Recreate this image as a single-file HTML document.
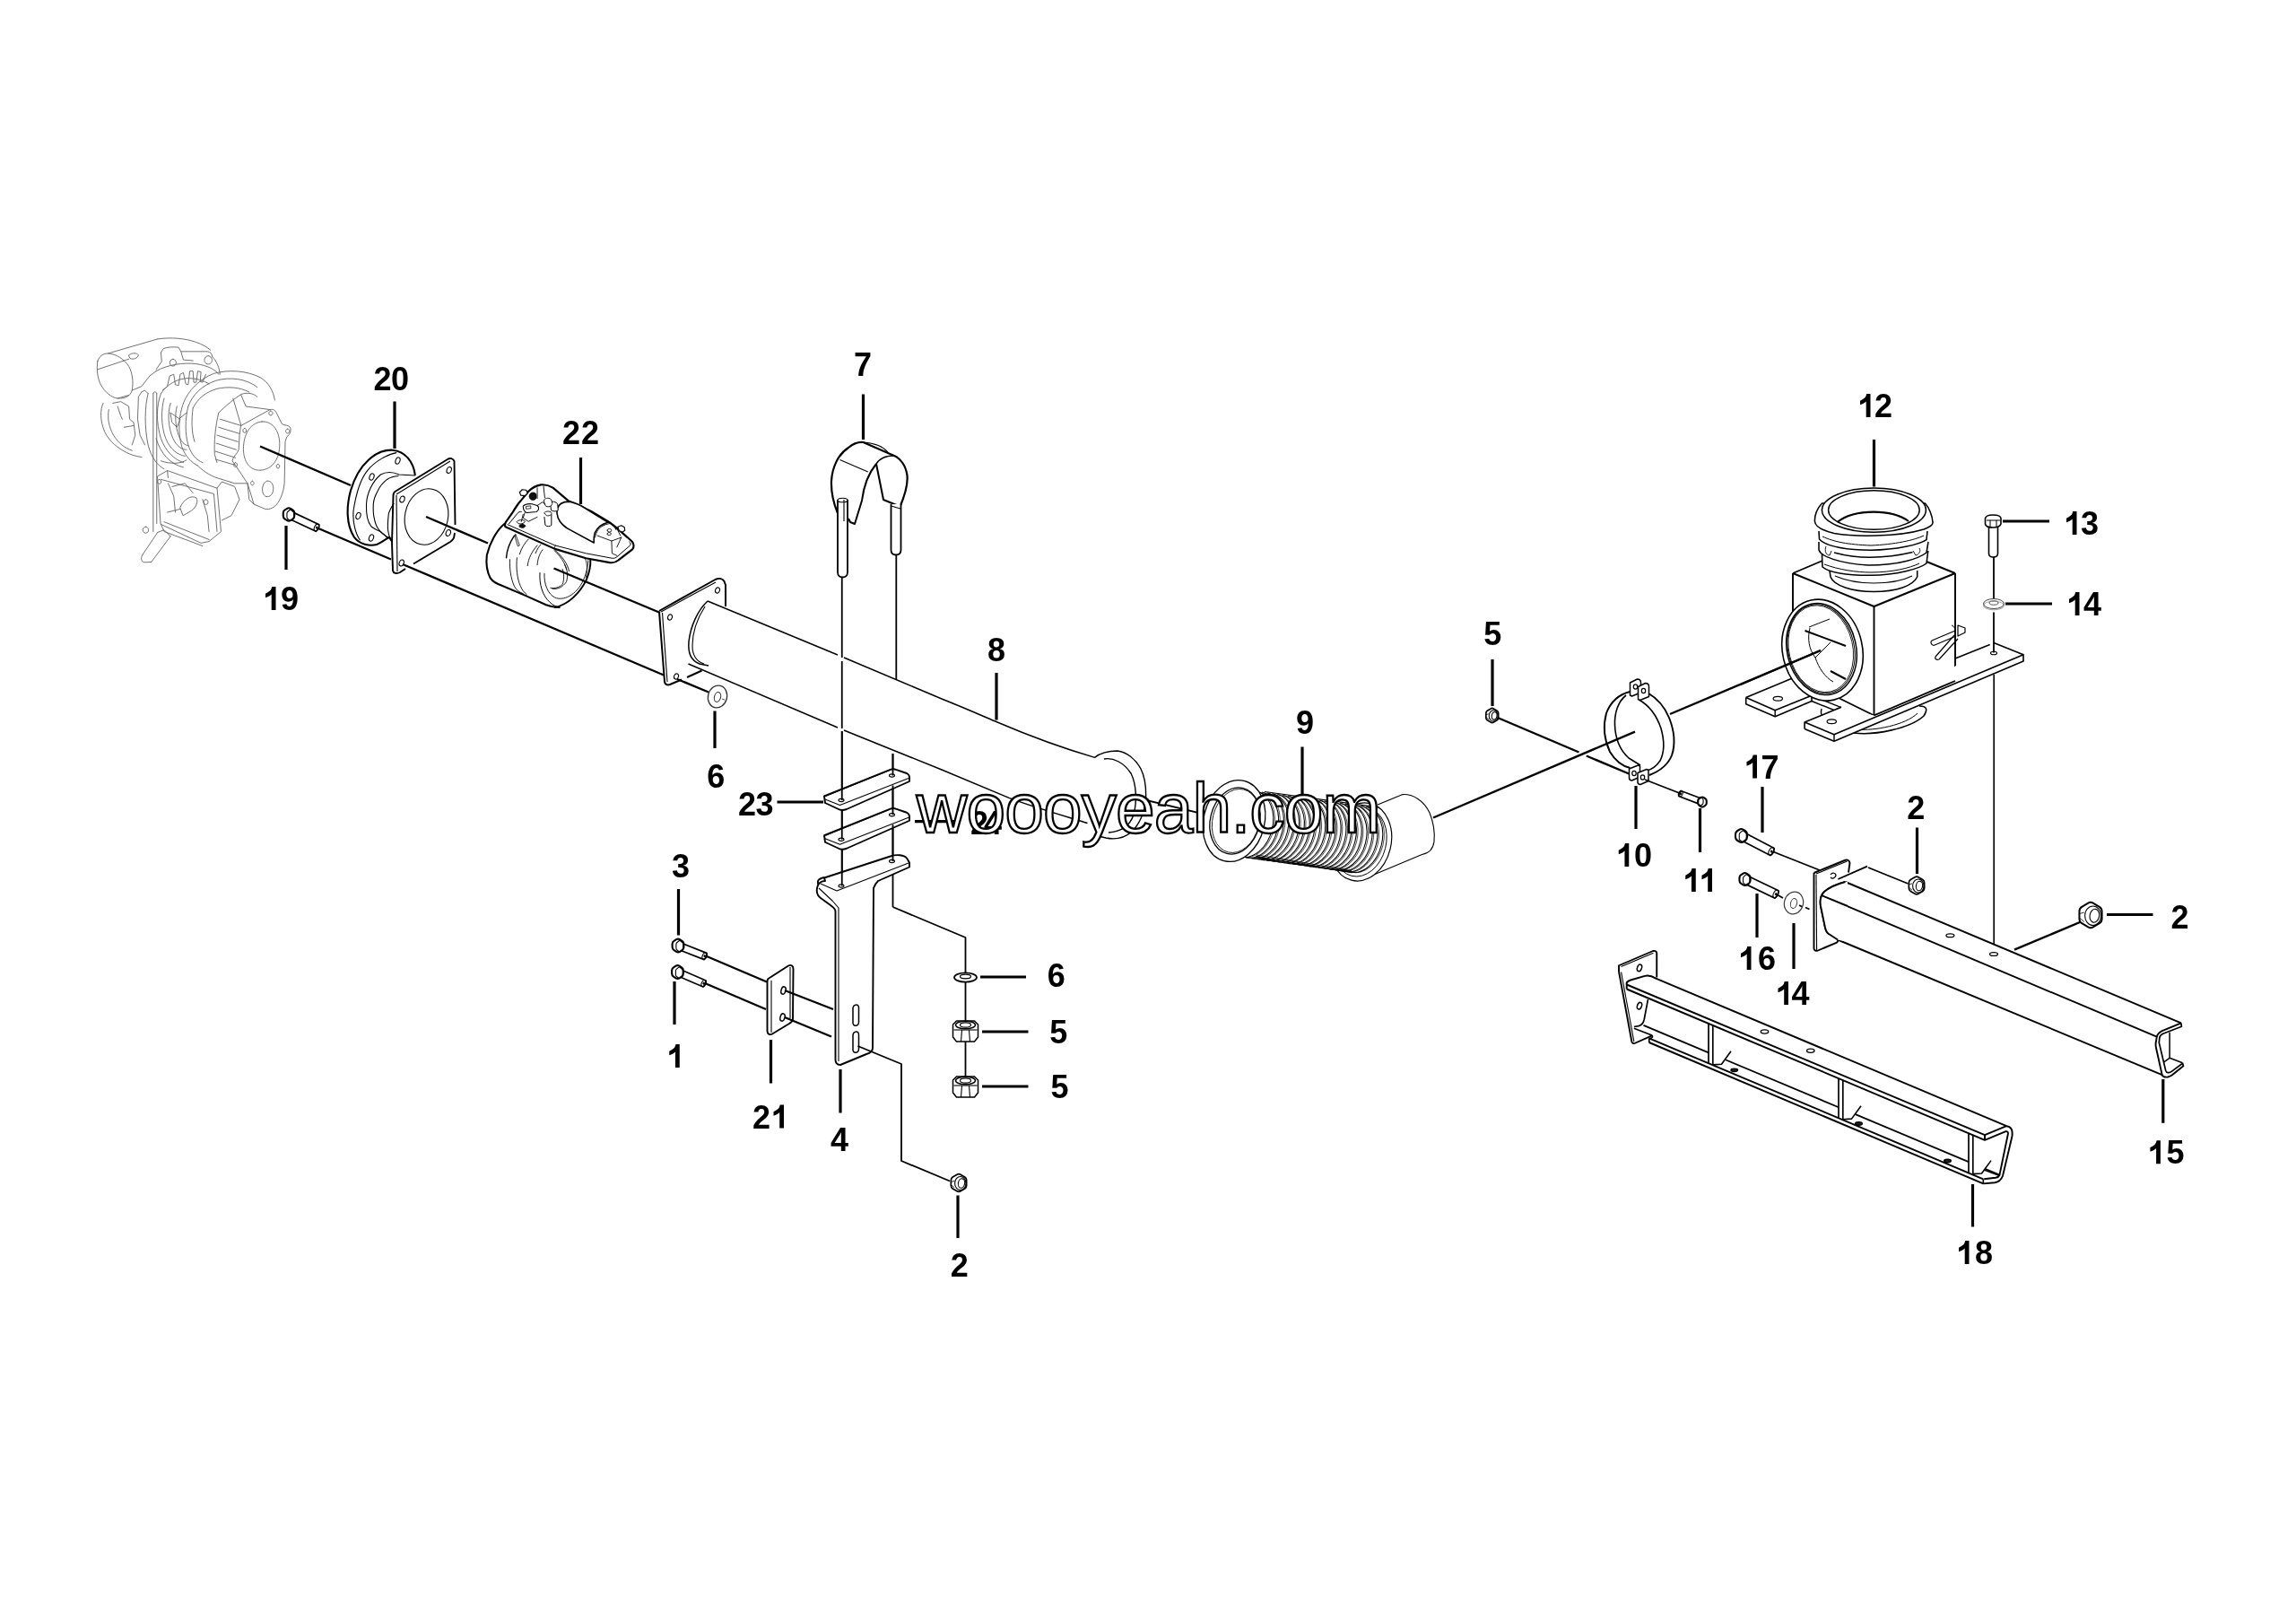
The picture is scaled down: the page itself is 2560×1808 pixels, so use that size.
<!DOCTYPE html>
<html><head><meta charset="utf-8"><title>Exhaust system exploded view</title>
<style>
html,body{margin:0;padding:0;background:#fff;}
svg{display:block;filter:grayscale(1);}
.lb{font-family:"Liberation Sans",sans-serif;font-weight:bold;font-size:36px;fill:#000;}
.wm{font-family:"Liberation Sans",sans-serif;font-size:78.5px;letter-spacing:-0.9px;fill:#fff;stroke:#000;stroke-width:2.3px;}
</style></head>
<body>
<svg xmlns="http://www.w3.org/2000/svg" width="2560" height="1808" viewBox="0 0 2560 1808" stroke-linecap="butt">
<rect x="0" y="0" width="2560" height="1808" fill="#fff"/>
<g transform="translate(90,360) scale(0.178827)" stroke="#666" fill="none" stroke-width="5.2" stroke-linejoin="round" stroke-linecap="round">
<path d="M105,240 C115,205 140,190 170,190 C220,192 270,225 300,270 C322,310 330,370 320,420 C310,455 280,472 230,470 C190,465 150,430 125,385 C105,345 98,290 105,240 Z"/>
<path d="M170,190 L480,100"/>
<path d="M105,290 L300,225"/>
<path d="M480,100 C560,88 650,95 720,120 C760,135 790,150 810,170"/>
<path d="M320,420 L380,395 L430,330 L470,300"/>
<path d="M230,470 L300,450"/>
<path d="M300,200 C320,185 350,185 360,200 C355,220 330,230 310,222 Z"/>
<path d="M500,185 L515,160 C540,150 580,148 610,152 L625,178 L790,178 C810,180 820,195 820,210"/>
<path d="M500,185 L505,240 L470,290"/>
<path d="M625,178 L640,230 L700,235"/>
<path d="M575,225 a20,22 0 1,0 0.1,0"/>
<path d="M795,205 a24,26 0 1,0 0.1,0"/>
<path d="M820,210 C850,240 865,280 868,320"/>
<path d="M510,420 L540,395 L555,330 L580,320 L590,385 L610,390 L620,320 L640,310 L655,380 L670,385 L680,300 L700,300 L705,370 L720,370 L730,300 L750,305 L745,365 L760,370 L780,320"/>
<path d="M500,440 C540,380 600,350 660,345 C720,343 770,360 800,380"/>
<path d="M470,300 C540,260 640,245 720,255 C790,265 840,290 860,320"/>
<path d="M500,440 C470,520 470,620 500,720 C530,800 580,850 640,870"/>
<path d="M520,470 C500,540 500,640 530,720 C560,790 600,820 650,830"/>
<path d="M560,500 C540,560 545,650 575,720 C600,770 630,790 660,790"/>
<path d="M600,520 C585,570 590,640 610,700 C625,740 645,760 670,765"/>
<path d="M560,560 L620,600 L600,650 L570,620 Z"/>
<path d="M610,600 L660,560"/>
<path d="M470,720 C500,820 560,880 640,900"/>
<path d="M500,860 C560,880 620,880 660,855"/>
<path d="M420,440 C400,520 395,640 420,760 C440,840 480,890 520,910"/>
<path d="M380,430 L360,460 L355,600 L370,700 L400,760"/>
<path d="M380,430 L400,420 L420,440"/>
<path d="M640,500 C670,420 740,350 830,315 C920,290 1030,295 1120,340 C1170,370 1200,420 1210,480"/>
<path d="M670,520 C700,440 760,390 840,360 C930,335 1030,345 1100,400"/>
<path d="M700,530 C730,470 780,430 850,410 C920,395 990,400 1050,430"/>
<path d="M640,500 C610,580 605,680 630,770 C650,830 690,870 730,890"/>
<path d="M670,520 C650,600 650,690 670,760 C690,820 720,855 760,870"/>
<path d="M700,530 C690,600 690,680 710,740"/>
<path d="M730,890 C770,930 820,960 880,975"/>
<path d="M860,560 C900,520 960,470 1000,445 C1040,430 1080,440 1100,460"/>
<path d="M860,560 C840,640 830,740 835,820 L850,870"/>
<path d="M870,600 L1000,640"/>
<path d="M860,650 L990,690"/>
<path d="M850,700 L980,740"/>
<path d="M845,750 L970,790"/>
<path d="M840,800 L965,840"/>
<path d="M840,850 L960,885"/>
<path d="M950,470 L1000,640 M1000,450 L1030,520 L1180,540"/>
<path d="M880,975 L960,1000 L1040,1000"/>
<path d="M1000,640 L1180,540 C1200,535 1215,545 1220,560 L1255,630 C1270,640 1295,635 1305,650 C1315,670 1305,695 1285,710 L1275,740 L1270,1000 C1265,1050 1250,1090 1230,1120 C1210,1150 1180,1165 1150,1160 L1080,1130 L1040,1000 L960,880 L945,860 C950,830 975,820 985,790 L990,700 Z"/>
<path d="M1130,615 C1200,610 1245,680 1240,770 C1235,860 1185,920 1110,918 C1045,915 1010,850 1015,770 C1020,680 1065,620 1130,615 Z"/>
<path d="M1160,985 C1190,980 1205,1010 1200,1045 C1195,1075 1170,1090 1150,1080 C1130,1065 1128,1030 1140,1005 Z"/>
<path d="M1185,548 a12,14 0 1,0 0.1,0"/>
<path d="M1290,660 a12,14 0 1,0 0.1,0"/>
<path d="M1022,656 a11,14 0 1,0 0.1,0"/>
<path d="M965,870 a11,14 0 1,0 0.1,0"/>
<path d="M1230,880 a10,13 0 1,0 0.1,0"/>
<path d="M1070,985 a10,13 0 1,0 0.1,0"/>
<path d="M1040,1000 L1050,1100 L1080,1130"/>
<path d="M480,955 L540,920 L850,1030 L875,1300 L800,1362 L750,1372 L500,1255 Z"/>
<path d="M500,975 L830,1065 L850,1300"/>
<path d="M540,920 L545,965"/>
<path d="M545,1000 L580,1080 L590,1180"/>
<path d="M620,1150 C640,1100 690,1070 720,1090 C735,1110 720,1150 690,1170 L640,1200 Z"/>
<path d="M540,1180 L620,1160 M570,1020 L650,1000 L700,1060"/>
<path d="M760,1100 L790,1200 L800,1300"/>
<path d="M520,1240 L800,1350"/>
<path d="M500,1255 L520,1300 L760,1390"/>
<path d="M850,1030 L880,990 L960,1020 L990,1100 L940,1200 L880,1230"/>
<path d="M780,1100 a14,16 0 1,0 0.1,0"/>
<path d="M490,975 a12,14 0 1,0 0.1,0"/>
<path d="M385,1445 L480,1305"/>
<path d="M440,1490 L560,1330"/>
<path d="M385,1445 C370,1470 380,1495 405,1492 L440,1490"/>
<path d="M405,1270 a18,20 0 1,0 0.1,0"/>
<path d="M480,1305 L520,1290 L560,1330"/>
<path d="M140,500 C120,540 120,610 150,680 C180,740 230,780 290,810 C320,825 350,832 380,836"/>
<path d="M175,540 C165,590 175,650 205,700 C235,750 275,780 320,795"/>
<path d="M200,500 L250,490 L300,520 L305,600 L330,620 L340,700 L320,760"/>
<path d="M270,650 L330,640 M230,520 L250,580 L260,600"/>
<path d="M452,440 L452,1300"/>
<path d="M474,440 L474,1250"/>
<path d="M452,440 C455,425 470,425 474,440"/>
</g>
<line x1="290" y1="497.5" x2="391" y2="541" stroke="#000" stroke-width="2.4" />
<line x1="475" y1="576" x2="544" y2="605.5" stroke="#000" stroke-width="2.4" />
<line x1="355" y1="589" x2="436" y2="623.5" stroke="#000" stroke-width="2.4" />
<line x1="449" y1="629" x2="740" y2="752.5" stroke="#000" stroke-width="2.4" />
<line x1="755" y1="757" x2="790" y2="771.5" stroke="#000" stroke-width="2.4" />
<path d="M462.9,529.8 C461,515 452,503 437.7,501.7 C420,501 400,516 391,546.8 C386,565 386,585 394.8,598.6 C401,607 412,609 420,607 C425,605 429,602 431.8,600.1 L434,599 L437,603.5" fill="none" stroke="#000" stroke-width="2.1" stroke-linejoin="round" />
<path d="M442.2,504.6 C433,506 418,514 409.6,524.6 C402,534 397,550 394.1,569 C393,581 396,594 401.5,602.3" fill="none" stroke="#000" stroke-width="1.1" stroke-linejoin="round" />
<path d="M462.9,530 L445,529 C437,525.5 430,526 424.4,529 C415,537 409,550 408.5,562 C408,575 410,582 414,587 C418,590 421,591 424,592.5 L433,600" fill="none" stroke="#000" stroke-width="1.1" stroke-linejoin="round" />
<path d="M444.4,530.5 C438,531 435,532 431.8,534.2 C426,539 423,543 421.4,546.8 C418,553 416.5,558 416.3,561.6 C416,568 416,572 417,576.4 C418,582 420,587 421.4,589 C425,594 429,597 433.3,599.4" fill="none" stroke="#000" stroke-width="1.1" stroke-linejoin="round" />
<path d="M439.2,560.9 C436,566 434,570 433.3,572.7 C432.5,580 432,586 432.6,591.2 C433,596 434.5,599 436.3,601.6" fill="none" stroke="#000" stroke-width="1.1" stroke-linejoin="round" />
<ellipse cx="443.5" cy="513.5" rx="2.4" ry="3.8" fill="none" stroke="#000" stroke-width="1.1" transform="rotate(20 443.5 513.5)"/>
<ellipse cx="414.5" cy="531.5" rx="2.4" ry="3.8" fill="none" stroke="#000" stroke-width="1.1" transform="rotate(20 414.5 531.5)"/>
<ellipse cx="399.5" cy="575" rx="2.4" ry="3.8" fill="none" stroke="#000" stroke-width="1.1" transform="rotate(20 399.5 575)"/>
<ellipse cx="414" cy="599.5" rx="2.4" ry="3.8" fill="none" stroke="#000" stroke-width="1.1" transform="rotate(20 414 599.5)"/>
<path d="M438.5,552 C438.5,549 440,548 442,547 L499,512 C502,510 505,511 506.5,514 L507.5,585 M507,594 L506.5,597 C506.5,600 505,602 502,604 L461,628.5 M452,634 L446,638 C442,640 438.5,639 438,636 L437,605 L438.5,552" fill="none" stroke="#000" stroke-width="1.9" stroke-linejoin="round" />
<path d="M442,551 L502,514" fill="none" stroke="#000" stroke-width="1.1" stroke-linejoin="round" />
<path d="M442,552 L443,637" fill="none" stroke="#000" stroke-width="1.1" stroke-linejoin="round" />
<ellipse cx="475.5" cy="576" rx="24" ry="31.5" fill="none" stroke="#000" stroke-width="1.1" transform="rotate(12 475.5 576)"/>
<ellipse cx="448.5" cy="556.5" rx="2.5" ry="3.6" fill="none" stroke="#000" stroke-width="1.1" transform="rotate(20 448.5 556.5)"/>
<ellipse cx="500.7" cy="524" rx="2.5" ry="3.6" fill="none" stroke="#000" stroke-width="1.1" transform="rotate(20 500.7 524)"/>
<ellipse cx="499.8" cy="594" rx="2.5" ry="3.6" fill="none" stroke="#000" stroke-width="1.1" transform="rotate(20 499.8 594)"/>
<ellipse cx="447.7" cy="627.5" rx="2.5" ry="3.6" fill="none" stroke="#000" stroke-width="1.1" transform="rotate(20 447.7 627.5)"/>
<path d="M323.84,579 L352.22,592.3 Q356.26,589.56 355.78,584.7 L327.4,571.39" fill="#fff" stroke="#000" stroke-width="1.7" stroke-linejoin="round" />
<ellipse cx="352.91" cy="587.99" rx="2.31" ry="3.99" fill="none" stroke="#000" stroke-width="1.1" transform="rotate(25.11 352.91 587.99)"/>
<ellipse cx="353.28" cy="588.16" rx="0.9" ry="1.2" fill="#000" stroke="#000" stroke-width="0.9"/>
<path d="M328.24,575.06 Q328.24,577.39 326.36,578.55 L323.87,580.11 Q322,581.28 320.13,580.11 L317.64,578.55 Q315.76,577.39 315.76,575.06 L315.76,571.94 Q315.76,569.61 317.64,568.45 L320.13,566.89 Q322,565.72 323.87,566.89 L326.36,568.45 Q328.24,569.61 328.24,571.94 Z" fill="#fff" stroke="#000" stroke-width="2.1" stroke-linejoin="round" />
<path d="M327.68,576.29 Q327.68,577.59 326.9,578.24 L324.58,580.18 Q323.81,580.83 323.04,580.18 L320.72,578.24 Q319.94,577.59 319.94,576.29 L319.94,572.4 Q319.94,571.11 320.72,570.46 L323.04,568.52 Q323.81,567.87 324.58,568.52 L326.9,570.46 Q327.68,571.11 327.68,572.4 Z" fill="none" stroke="#000" stroke-width="1.1" stroke-linejoin="round" />
<g transform="translate(530,530) scale(0.098649)" fill="none" stroke="#000" stroke-linejoin="round" stroke-linecap="round">
<path d="M330,545 C240,620 160,760 125,900 C115,1000 130,1080 170,1160 C200,1210 240,1230 300,1250 L560,1355 L800,1460 C860,1485 900,1492 950,1490 C1100,1470 1220,1330 1270,1180 C1300,1080 1310,980 1300,940 L900,840 L340,580 Z" stroke-width="0" fill="#fff"/>
<path d="M900,1490 C1050,1460 1180,1330 1255,1180 C1290,1090 1305,1010 1300,950" stroke-width="20" fill="none"/>
<path d="M730,1100 C720,1230 760,1360 840,1430 C880,1470 920,1485 950,1490" stroke-width="10" fill="none"/>
<path d="M780,1110 C775,1230 820,1340 900,1380 C1000,1420 1120,1350 1190,1240 C1240,1160 1270,1060 1275,960" stroke-width="9" fill="none"/>
<path d="M700,1010 C705,950 720,890 760,840" stroke-width="9" fill="none"/>
<path d="M850,1270 C900,1280 950,1265 985,1230 C1005,1180 1005,1110 985,1060" stroke-width="9" fill="none"/>
<path d="M870,1280 C930,1290 990,1260 1030,1200 C1050,1130 1040,1060 1010,1010" stroke-width="9" fill="none"/>
<path d="M890,845 C960,910 1010,980 1030,1060" stroke-width="9" fill="none"/>
<path d="M905,848 C990,920 1040,1000 1060,1080" stroke-width="9" fill="none"/>
<path d="M1240,935 C1270,1000 1265,1080 1250,1150" stroke-width="8" fill="none"/>
<path d="M330,545 C240,620 165,760 130,900 C118,1000 128,1080 170,1160 C200,1205 240,1225 300,1245 L560,1355 L800,1462 C860,1486 900,1492 950,1490" stroke-width="21" fill="none"/>
<path d="M350,930 C355,850 380,770 440,680" stroke-width="15" fill="none"/>
<path d="M390,950 C385,1050 400,1160 440,1250 C460,1295 500,1320 540,1335" stroke-width="9" fill="none"/>
<path d="M470,930 C460,1040 470,1160 510,1250 C530,1295 550,1320 580,1345" stroke-width="9" fill="none"/>
<path d="M500,890 C520,820 560,760 600,720" stroke-width="9" fill="none"/>
<path d="M590,1020 C600,930 640,860 700,790" stroke-width="9" fill="none"/>
<path d="M680,880 C700,830 720,800 740,780" stroke-width="9" fill="none"/>
<path d="M455,665 L500,790 L480,800 L450,700 Z" stroke-width="8" fill="none"/>
<path d="M340,580 C330,560 332,545 345,525 L420,420 C450,370 480,320 510,290 L600,180 C640,140 680,115 740,105 C790,100 830,110 880,140 L1050,285 L1300,400 L1500,520 C1580,570 1650,640 1720,700 L1770,745 C1795,770 1795,810 1775,835 L1620,955 C1590,980 1560,990 1520,985 L1250,935 L900,830 Z" stroke-width="22" fill="#fff"/>
<path d="M365,555 L900,790 L1250,880 L1545,935 C1570,938 1590,930 1600,920 L1750,790 C1760,780 1755,760 1740,750" stroke-width="10" fill="none"/>
<path d="M380,545 L475,430 C490,410 505,405 520,410" stroke-width="10" fill="none"/>
<path d="M890,825 L905,790" stroke-width="8" fill="none"/>
<path d="M925,380 C940,320 990,295 1060,295 C1100,298 1150,320 1200,345 L1500,530 C1440,545 1380,580 1350,650 C1335,700 1338,740 1340,760 L1080,620 C1020,590 960,540 935,480 C920,440 918,410 925,380 Z" stroke-width="16" fill="#fff"/>
<path d="M1500,530 C1540,540 1570,570 1590,610" stroke-width="12" fill="none"/>
<path d="M1355,700 C1360,640 1400,580 1460,560" stroke-width="9" fill="none"/>
<path d="M1380,680 L1540,740 L1650,700" stroke-width="9" fill="none"/>
<path d="M1540,740 L1545,880 L1600,905 M1600,810 L1650,700" stroke-width="9" fill="none"/>
<path d="M1450,560 L1530,540 L1600,600 L1640,680" stroke-width="9" fill="none"/>
<path d="M1490,620 a25,18 0 1,0 50,0 a25,18 0 1,0 -50,0" stroke-width="8" fill="none"/>
<path d="M1490,660 a22,16 0 1,0 44,0 a22,16 0 1,0 -44,0" stroke-width="8" fill="none"/>
<path d="M1610,580 L1650,565 L1685,585 L1690,620 L1660,640 L1625,625 Z" stroke-width="12" fill="#fff"/>
<path d="M850,300 C870,290 905,295 930,320 L935,395 C910,410 880,405 860,395 Z" stroke-width="10" fill="#fff"/>
<path d="M780,270 C800,250 840,250 860,275 L870,320 C860,350 830,360 800,350 L780,320 Z" stroke-width="9" fill="#fff"/>
<path d="M540,345 C560,325 600,318 640,322 L700,340 C725,360 720,395 690,410 L580,420 C555,410 540,385 540,345 Z" stroke-width="11" fill="#fff"/>
<path d="M575,350 L625,343 L628,372 L578,378 Z" stroke-width="8" fill="none"/>
<path d="M700,340 L760,300 L790,320" stroke-width="9" fill="none"/>
<path d="M780,470 L790,560 C800,580 850,580 860,560 L860,440" stroke-width="10" fill="#fff"/>
<path d="M780,420 C800,400 840,400 860,420 C870,440 840,460 810,455 Z" stroke-width="9" fill="#fff"/>
<path d="M560,420 L540,480 L600,520 L700,470" stroke-width="9" fill="none"/>
<path d="M470,520 C480,500 540,495 560,515 C565,540 520,550 490,545 Z" stroke-width="9" fill="none"/>
<path d="M500,560 C520,545 560,550 565,570 C560,595 515,595 500,580 Z" stroke-width="9" fill="#111"/>
<path d="M610,235 a40,42 0 1,0 80,0 a40,42 0 1,0 -80,0" stroke-width="9" fill="#111"/>
<path d="M500,190 L530,160 L575,165 L590,200 L560,230 L515,225 Z" stroke-width="12" fill="#fff"/>
<path d="M700,140 L700,260 M770,120 L785,250" stroke-width="9" fill="none"/>
<path d="M540,440 L520,520" stroke-width="9" fill="none"/>
</g>
<line x1="617.5" y1="633.5" x2="736" y2="683" stroke="#000" stroke-width="2.4" />
<path d="M735,681 L797.5,646 C802,644 806,645 807.5,648 L809,652 L809,676" fill="none" stroke="#000" stroke-width="2.0" stroke-linejoin="round" />
<path d="M735,682 L741,760 C741.5,763 744,764 747,763 L760,757.5" fill="none" stroke="#000" stroke-width="2.0" stroke-linejoin="round" />
<path d="M738.5,683 L744,760" fill="none" stroke="#000" stroke-width="1.1" stroke-linejoin="round" />
<path d="M737,682 L798,649" fill="none" stroke="#000" stroke-width="1.1" stroke-linejoin="round" />
<path d="M766,755 L782.5,747.5" fill="none" stroke="#000" stroke-width="2.0" stroke-linejoin="round" />
<ellipse cx="747" cy="688" rx="2.4" ry="3.2" fill="none" stroke="#000" stroke-width="1.1" transform="rotate(20 747 688)"/>
<ellipse cx="800" cy="658" rx="2.4" ry="3.2" fill="none" stroke="#000" stroke-width="1.1" transform="rotate(20 800 658)"/>
<ellipse cx="754" cy="754" rx="2.4" ry="3.2" fill="none" stroke="#000" stroke-width="1.1" transform="rotate(20 754 754)"/>
<path d="M789,670 L934,730 M941,733 L1050,779 C1080,791 1100,800 1112,805 C1140,817 1175,831 1220.6,844.4 L1231,846 C1242,845 1255,851 1263,864 C1268,877 1268,900 1262,915 C1257,925 1248,929 1232,929 C1210,919 1180,907 1158,900 L1125,889.4 L1050,858 L767.5,740" fill="#fff" stroke="#000" stroke-width="0" stroke-linejoin="round" stroke="none"/>
<path d="M789,670 L934,730 M941,733 L1050,779 C1080,791 1100,800 1112,805 C1140,817 1175,831 1220.6,844.4 L1231,846" fill="none" stroke="#000" stroke-width="1.5" stroke-linejoin="round" />
<path d="M767.5,740 L934,811 M941,814 L1050,858 L1125,889.4 C1150,899 1185,909 1212.5,917.5" fill="none" stroke="#000" stroke-width="1.5" stroke-linejoin="round" />
<path d="M789,670 C778,680 770,698 768,715 C767,728 770,736 780,740 L790,742" fill="none" stroke="#000" stroke-width="1.5" stroke-linejoin="round" />
<path d="M786,676 C777,690 772,705 772,720 C772,730 776,737 785,740" fill="none" stroke="#000" stroke-width="1.1" stroke-linejoin="round" />
<path d="M1220.6,844.4 C1226,840 1236,837 1246,837 C1256,838 1266,846 1272,857 C1277,867 1278,882 1277.5,892 C1276,905 1271,918 1262,927 C1254,934 1243,936 1233,934 L1225,932" fill="#fff" stroke="#000" stroke-width="1.4" stroke-linejoin="round" />
<path d="M1231,846 C1241,844 1253,850 1261,862 C1267,874 1268,893 1264,908 C1260,920 1250,927 1236,928" fill="none" stroke="#000" stroke-width="1.4" stroke-linejoin="round" />
<line x1="938.75" y1="642" x2="938.75" y2="733" stroke="#000" stroke-width="1.8" />
<line x1="938.75" y1="737" x2="938.75" y2="812" stroke="#000" stroke-width="1.8" />
<line x1="938.75" y1="815" x2="938.75" y2="988" stroke="#000" stroke-width="1.8" />
<line x1="999.3" y1="617.5" x2="999.3" y2="757" stroke="#000" stroke-width="1.8" />
<line x1="995.5" y1="840" x2="995.5" y2="1011" stroke="#000" stroke-width="1.8" />
<polyline points="995.5,1011 1076.5,1045 1076.5,1084" fill="none" stroke="#000" stroke-width="1.8" stroke-linejoin="round" />
<path d="M934,572 C929,560 926.5,548 927,536 C928,520 935,506 946,499 C952,494 958,492.5 962.5,493 L997,508 C1004,511 1010,519 1011.5,530 C1012.5,540 1009,552 1003,566" fill="#fff" stroke="#000" stroke-width="2.2" stroke-linejoin="round" />
<path d="M962.5,493 C975,494 985,498 990,504" fill="none" stroke="#000" stroke-width="1.1" stroke-linejoin="round" />
<path d="M977,517 C981,511 987,508 996,508" fill="none" stroke="#000" stroke-width="1.5" stroke-linejoin="round" />
<path d="M977,517 C968,528 963,542 961,558 L953,584 L948,582 L946,578" fill="none" stroke="#000" stroke-width="2.0" stroke-linejoin="round" />
<path d="M977,517 L985,557 L1002,564" fill="none" stroke="#000" stroke-width="2.0" stroke-linejoin="round" />
<line x1="936.5" y1="512.5" x2="967.75" y2="526" stroke="#000" stroke-width="1.1" />
<path d="M934,557 L934,638 C934,642 937,643.5 939.5,643.5 C942,643.5 945,642 945,638 L945,557" fill="#fff" stroke="#000" stroke-width="1.8" stroke-linejoin="round" />
<ellipse cx="939.5" cy="557.5" rx="5.5" ry="2.3" fill="#fff" stroke="#000" stroke-width="1.1"/>
<path d="M941,557 L941,581" fill="none" stroke="#000" stroke-width="1.1" stroke-linejoin="round" />
<path d="M993.5,562 L993.5,613 C993.5,617 996,618.5 999,618.5 C1002,618.5 1004.5,617 1004.5,613 L1004.5,562" fill="#fff" stroke="#000" stroke-width="1.8" stroke-linejoin="round" />
<line x1="993.5" y1="564" x2="1004" y2="567" stroke="#000" stroke-width="1.1" />
<ellipse cx="800" cy="776.5" rx="10.5" ry="12.5" fill="#fff" stroke="#333" stroke-width="1.3" transform="rotate(15 800 776.5)"/>
<ellipse cx="800" cy="777" rx="3.5" ry="5.5" fill="none" stroke="#333" stroke-width="1.1" transform="rotate(15 800 777)"/>
<line x1="805" y1="779" x2="808" y2="780" stroke="#555" stroke-width="1.0" />
<path d="M919,887.5 L992.75,857.8 C995,857 997,857 999,857.8 L1011,862 C1013,863 1014,864.5 1014,866.5 L1014,871 L944,902 C940,903.5 937,903.5 934,901.5 L920,895 Z" fill="#fff" stroke="#000" stroke-width="1.9" stroke-linejoin="round" />
<line x1="921" y1="887.2" x2="992" y2="858.6" stroke="#000" stroke-width="1.0" />
<path d="M920,891 L936.5,897.5 L1013,867.5" fill="none" stroke="#000" stroke-width="1.1" stroke-linejoin="round" />
<ellipse cx="938" cy="892" rx="3" ry="1.6" fill="none" stroke="#000" stroke-width="1.1"/>
<ellipse cx="994.5" cy="864.5" rx="3" ry="1.6" fill="none" stroke="#000" stroke-width="1.1"/>
<path d="M919,931.25 L992.75,901.55 C995,900.75 997,900.75 999,901.55 L1011,905.75 C1013,906.75 1014,908.25 1014,910.25 L1014,914.75 L944,945.75 C940,947.25 937,947.25 934,945.25 L920,938.75 Z" fill="#fff" stroke="#000" stroke-width="1.9" stroke-linejoin="round" />
<line x1="921" y1="930.95" x2="992" y2="902.35" stroke="#000" stroke-width="1.0" />
<path d="M920,934.75 L936.5,941.25 L1013,911.25" fill="none" stroke="#000" stroke-width="1.1" stroke-linejoin="round" />
<ellipse cx="938" cy="935.75" rx="3" ry="1.6" fill="none" stroke="#000" stroke-width="1.1"/>
<ellipse cx="994.5" cy="908.25" rx="3" ry="1.6" fill="none" stroke="#000" stroke-width="1.1"/>
<path d="M937,1000 C929,998 922,996 919,993 C914,989 911,986 912,982.5 C912,980 915,979 919,978" fill="none" stroke="#000" stroke-width="1.9" stroke-linejoin="round" />
<path d="M919,978.5 L992.75,954.5 C1000,952 1008,953 1011,956.5 L1014,961.5 L1014,966.5 L979,982 C977,984 975,987 974,990 L973,1168 C973,1172 970,1174 966,1175 L937,1187 C933,1187 931.5,1184 931.5,1181 L931.5,1016 C931.5,1013 929,1011 926,1009 L915,1001 C911,998 910,993 911.5,988 C913,984 916,982 920,982 Z" fill="#fff" stroke="#000" stroke-width="1.9" stroke-linejoin="round" />
<path d="M915,985 L933,993 L1013,962" fill="none" stroke="#000" stroke-width="1.1" stroke-linejoin="round" />
<path d="M913,990 L928,1004 L935,1012 L935,1183" fill="none" stroke="#000" stroke-width="1.1" stroke-linejoin="round" />
<ellipse cx="938" cy="987.5" rx="3" ry="1.6" fill="none" stroke="#000" stroke-width="1.1"/>
<ellipse cx="994.5" cy="960" rx="3" ry="1.6" fill="none" stroke="#000" stroke-width="1.1"/>
<path d="M951,1124 C951,1120 957,1118 957.5,1123 L957.5,1139 C957.5,1144 951,1145 951,1140 Z" fill="none" stroke="#000" stroke-width="1.5" stroke-linejoin="round" />
<path d="M951,1154 C951,1150 957,1148 957.5,1153 L957.5,1169 C957.5,1174 951,1175 951,1170 Z" fill="none" stroke="#000" stroke-width="1.5" stroke-linejoin="round" />
<line x1="938.75" y1="815" x2="938.75" y2="892" stroke="#000" stroke-width="1.8" />
<line x1="938.75" y1="903.5" x2="938.75" y2="935.7" stroke="#000" stroke-width="1.8" />
<line x1="938.75" y1="947.2" x2="938.75" y2="987.5" stroke="#000" stroke-width="1.8" />
<line x1="995.5" y1="840" x2="995.5" y2="864.5" stroke="#000" stroke-width="1.8" />
<line x1="995.5" y1="875.5" x2="995.5" y2="908.2" stroke="#000" stroke-width="1.8" />
<line x1="995.5" y1="919.2" x2="995.5" y2="960" stroke="#000" stroke-width="1.8" />
<line x1="788" y1="1066" x2="855" y2="1094.5" stroke="#000" stroke-width="2.4" />
<line x1="786" y1="1096" x2="854" y2="1125" stroke="#000" stroke-width="2.4" />
<path d="M856.5,1091 L879,1076.5 C882,1075 884.5,1076.5 884.5,1080 L884,1136 C884,1138 882.5,1139.5 880,1141 L861,1152.5 C858,1154 855.5,1152.5 855.5,1149 L855.5,1094 C855.5,1092.5 856,1091.5 856.5,1091 Z" fill="#fff" stroke="#000" stroke-width="1.9" stroke-linejoin="round" />
<line x1="860" y1="1093" x2="860" y2="1151" stroke="#000" stroke-width="1.1" />
<path d="M881,1078 L881,1135" fill="none" stroke="#000" stroke-width="1.1" stroke-linejoin="round" />
<ellipse cx="873.5" cy="1104" rx="2.5" ry="4.2" fill="none" stroke="#000" stroke-width="1.5" transform="rotate(15 873.5 1104)"/>
<ellipse cx="872.5" cy="1134" rx="2.5" ry="4.2" fill="none" stroke="#000" stroke-width="1.5" transform="rotate(15 872.5 1134)"/>
<line x1="875" y1="1104" x2="929" y2="1125" stroke="#000" stroke-width="2.4" />
<line x1="875" y1="1134" x2="927" y2="1155.5" stroke="#000" stroke-width="2.4" />
<path d="M758.29,1059.09 L785.07,1069.63 Q788.83,1066.92 787.93,1062.37 L761.15,1051.84" fill="#fff" stroke="#000" stroke-width="1.7" stroke-linejoin="round" />
<ellipse cx="785.38" cy="1065.56" rx="2.15" ry="3.7" fill="none" stroke="#000" stroke-width="1.1" transform="rotate(21.48 785.38 1065.56)"/>
<ellipse cx="785.76" cy="1065.71" rx="0.9" ry="1.2" fill="#000" stroke="#000" stroke-width="0.9"/>
<path d="M762.41,1055.6 Q762.41,1058 760.49,1059.19 L757.92,1060.79 Q756,1061.99 754.08,1060.79 L751.51,1059.19 Q749.59,1058 749.59,1055.6 L749.59,1052.4 Q749.59,1050 751.51,1048.81 L754.08,1047.21 Q756,1046.01 757.92,1047.21 L760.49,1048.81 Q762.41,1050 762.41,1052.4 Z" fill="#fff" stroke="#000" stroke-width="2.1" stroke-linejoin="round" />
<path d="M761.83,1056.73 Q761.83,1058.06 761.04,1058.73 L758.66,1060.73 Q757.86,1061.39 757.07,1060.73 L754.68,1058.73 Q753.89,1058.06 753.89,1056.73 L753.89,1052.73 Q753.89,1051.4 754.68,1050.74 L757.07,1048.74 Q757.86,1048.07 758.66,1048.74 L761.04,1050.74 Q761.83,1051.4 761.83,1052.73 Z" fill="none" stroke="#000" stroke-width="1.1" stroke-linejoin="round" />
<path d="M757.62,1088.67 L783.95,1100.08 Q787.79,1097.49 787.05,1092.92 L760.72,1081.51" fill="#fff" stroke="#000" stroke-width="1.7" stroke-linejoin="round" />
<ellipse cx="784.4" cy="1096.02" rx="2.15" ry="3.7" fill="none" stroke="#000" stroke-width="1.1" transform="rotate(23.43 784.4 1096.02)"/>
<ellipse cx="784.77" cy="1096.18" rx="0.9" ry="1.2" fill="#000" stroke="#000" stroke-width="0.9"/>
<path d="M761.91,1085.1 Q761.91,1087.5 759.99,1088.69 L757.42,1090.29 Q755.5,1091.49 753.58,1090.29 L751.01,1088.69 Q749.09,1087.5 749.09,1085.1 L749.09,1081.9 Q749.09,1079.5 751.01,1078.31 L753.58,1076.71 Q755.5,1075.51 757.42,1076.71 L759.99,1078.31 Q761.91,1079.5 761.91,1081.9 Z" fill="#fff" stroke="#000" stroke-width="2.1" stroke-linejoin="round" />
<path d="M761.31,1086.29 Q761.31,1087.63 760.51,1088.29 L758.13,1090.29 Q757.34,1090.96 756.54,1090.29 L754.16,1088.29 Q753.36,1087.63 753.36,1086.29 L753.36,1082.3 Q753.36,1080.97 754.16,1080.3 L756.54,1078.3 Q757.34,1077.64 758.13,1078.3 L760.51,1080.3 Q761.31,1080.97 761.31,1082.3 Z" fill="none" stroke="#000" stroke-width="1.1" stroke-linejoin="round" />
<line x1="1076.5" y1="1094" x2="1076.5" y2="1138" stroke="#000" stroke-width="1.8" />
<line x1="1076.5" y1="1160" x2="1076.5" y2="1200" stroke="#000" stroke-width="1.8" />
<ellipse cx="1076.5" cy="1089.5" rx="12.5" ry="5.2" fill="#fff" stroke="#000" stroke-width="1.8"/>
<ellipse cx="1076.5" cy="1088.5" rx="6" ry="2.3" fill="#fff" stroke="#000" stroke-width="1.2"/>
<rect x="1064" y="1089" width="25" height="2" fill="none"/>
<path d="M1062.5,1142 L1066.5,1138 L1086.5,1138 L1090.5,1142 L1090.5,1156 L1086.5,1161 L1066.5,1161 L1062.5,1156 Z" fill="#fff" stroke="#000" stroke-width="1.5" stroke-linejoin="round" />
<ellipse cx="1076.5" cy="1142.5" rx="11" ry="4.2" fill="none" stroke="#000" stroke-width="1.5"/>
<ellipse cx="1076.5" cy="1142.5" rx="6" ry="2.6" fill="none" stroke="#000" stroke-width="1.1"/>
<line x1="1063.5" y1="1148" x2="1089.5" y2="1148" stroke="#000" stroke-width="1.1" />
<line x1="1072.5" y1="1148" x2="1071.5" y2="1161" stroke="#000" stroke-width="1.1" />
<line x1="1080.5" y1="1148" x2="1081.5" y2="1161" stroke="#000" stroke-width="1.1" />
<path d="M1062.5,1204 L1066.5,1200 L1086.5,1200 L1090.5,1204 L1090.5,1218 L1086.5,1223 L1066.5,1223 L1062.5,1218 Z" fill="#fff" stroke="#000" stroke-width="1.5" stroke-linejoin="round" />
<ellipse cx="1076.5" cy="1204.5" rx="11" ry="4.2" fill="none" stroke="#000" stroke-width="1.5"/>
<ellipse cx="1076.5" cy="1204.5" rx="6" ry="2.6" fill="none" stroke="#000" stroke-width="1.1"/>
<line x1="1063.5" y1="1210" x2="1089.5" y2="1210" stroke="#000" stroke-width="1.1" />
<line x1="1072.5" y1="1210" x2="1071.5" y2="1223" stroke="#000" stroke-width="1.1" />
<line x1="1080.5" y1="1210" x2="1081.5" y2="1223" stroke="#000" stroke-width="1.1" />
<polyline points="956.5,1166 1005,1186 1005,1294 1059,1316.5" fill="none" stroke="#000" stroke-width="1.8" stroke-linejoin="round" />
<path d="M1077.66,1321.44 Q1077.66,1323.75 1075.75,1324.9 L1070.91,1327.85 Q1069,1329 1067.09,1327.85 L1062.25,1324.9 Q1060.34,1323.75 1060.34,1321.44 L1060.34,1315.56 Q1060.34,1313.25 1062.25,1312.1 L1067.09,1309.15 Q1069,1308 1070.91,1309.15 L1075.75,1312.1 Q1077.66,1313.25 1077.66,1315.56 Z" fill="#fff" stroke="#000" stroke-width="1.7000000000000002" stroke-linejoin="round" />
<ellipse cx="1070.8" cy="1319.03" rx="6.2" ry="7.56" fill="none" stroke="#000" stroke-width="1.1"/>
<ellipse cx="1072" cy="1319.03" rx="3.6" ry="5.25" fill="none" stroke="#000" stroke-width="1.1" transform="rotate(10 1072 1319.03)"/>
<line x1="1060.4" y1="1317.45" x2="1064" y2="1316.4" stroke="#000" stroke-width="0.8" />
<line x1="1064" y1="1323.75" x2="1060.4" y2="1320.6" stroke="#000" stroke-width="0.8" />
<line x1="1262" y1="888" x2="1376" y2="915.6" stroke="#000" stroke-width="2.0" />
<path d="M1536,897 L1564,885.6 C1576,885 1588,893 1594,906 C1598,916 1600,928 1599,938 C1598,946 1594,951 1585.5,952.5 L1533,974.5 Z" fill="#fff" stroke="#000" stroke-width="0" stroke-linejoin="round" stroke="none"/>
<path d="M1536,897 L1564,885.6 C1576,885 1588,893 1594,906 C1598,916 1600,928 1599,938 C1598,946 1594,951 1585.5,952.5 L1533,974.5" fill="none" stroke="#000" stroke-width="1.1" stroke-linejoin="round" />
<ellipse cx="1517.5" cy="938.5" rx="33.5" ry="44" fill="#fff" stroke="#000" stroke-width="1.2" transform="rotate(14 1517.5 938.5)"/>
<ellipse cx="1516.5" cy="938.5" rx="29" ry="39" fill="none" stroke="#000" stroke-width="0.9" transform="rotate(14 1516.5 938.5)"/>
<path d="M1395,880 L1524.77,899.41 A27,37.5 14 0 1 1506.63,972.19 L1395,956 Z" fill="#fff" stroke="#000" stroke-width="0" stroke-linejoin="round" stroke="none"/>
<path d="M1401.07,882.11 A27,37.5 14 0 1 1382.93,954.89" fill="none" stroke="#000" stroke-width="1.05" stroke-linejoin="round" />
<path d="M1402.77,882.41 A27,37.5 14 0 1 1384.63,955.19" fill="none" stroke="#000" stroke-width="0.7" stroke-linejoin="round" />
<path d="M1406.88,882.92 A27,37.5 14 0 1 1388.74,955.7" fill="none" stroke="#000" stroke-width="1.05" stroke-linejoin="round" />
<path d="M1408.58,883.22 A27,37.5 14 0 1 1390.44,956" fill="none" stroke="#000" stroke-width="0.7" stroke-linejoin="round" />
<path d="M1412.69,883.73 A27,37.5 14 0 1 1394.55,956.51" fill="none" stroke="#000" stroke-width="1.05" stroke-linejoin="round" />
<path d="M1414.39,884.03 A27,37.5 14 0 1 1396.25,956.81" fill="none" stroke="#000" stroke-width="0.7" stroke-linejoin="round" />
<path d="M1418.5,884.54 A27,37.5 14 0 1 1400.36,957.31" fill="none" stroke="#000" stroke-width="1.05" stroke-linejoin="round" />
<path d="M1420.2,884.84 A27,37.5 14 0 1 1402.06,957.61" fill="none" stroke="#000" stroke-width="0.7" stroke-linejoin="round" />
<path d="M1424.31,885.35 A27,37.5 14 0 1 1406.17,958.12" fill="none" stroke="#000" stroke-width="1.05" stroke-linejoin="round" />
<path d="M1426.01,885.65 A27,37.5 14 0 1 1407.87,958.42" fill="none" stroke="#000" stroke-width="0.7" stroke-linejoin="round" />
<path d="M1430.12,886.16 A27,37.5 14 0 1 1411.98,958.93" fill="none" stroke="#000" stroke-width="1.05" stroke-linejoin="round" />
<path d="M1431.82,886.46 A27,37.5 14 0 1 1413.68,959.23" fill="none" stroke="#000" stroke-width="0.7" stroke-linejoin="round" />
<path d="M1435.93,886.97 A27,37.5 14 0 1 1417.79,959.74" fill="none" stroke="#000" stroke-width="1.05" stroke-linejoin="round" />
<path d="M1437.63,887.27 A27,37.5 14 0 1 1419.49,960.04" fill="none" stroke="#000" stroke-width="0.7" stroke-linejoin="round" />
<path d="M1441.74,887.78 A27,37.5 14 0 1 1423.59,960.55" fill="none" stroke="#000" stroke-width="1.05" stroke-linejoin="round" />
<path d="M1443.44,888.08 A27,37.5 14 0 1 1425.29,960.85" fill="none" stroke="#000" stroke-width="0.7" stroke-linejoin="round" />
<path d="M1447.55,888.59 A27,37.5 14 0 1 1429.4,961.36" fill="none" stroke="#000" stroke-width="1.05" stroke-linejoin="round" />
<path d="M1449.25,888.89 A27,37.5 14 0 1 1431.1,961.66" fill="none" stroke="#000" stroke-width="0.7" stroke-linejoin="round" />
<path d="M1453.36,889.4 A27,37.5 14 0 1 1435.21,962.17" fill="none" stroke="#000" stroke-width="1.05" stroke-linejoin="round" />
<path d="M1455.06,889.7 A27,37.5 14 0 1 1436.91,962.47" fill="none" stroke="#000" stroke-width="0.7" stroke-linejoin="round" />
<path d="M1459.17,890.21 A27,37.5 14 0 1 1441.02,962.98" fill="none" stroke="#000" stroke-width="1.05" stroke-linejoin="round" />
<path d="M1460.87,890.51 A27,37.5 14 0 1 1442.72,963.28" fill="none" stroke="#000" stroke-width="0.7" stroke-linejoin="round" />
<path d="M1464.98,891.02 A27,37.5 14 0 1 1446.83,963.79" fill="none" stroke="#000" stroke-width="1.05" stroke-linejoin="round" />
<path d="M1466.68,891.32 A27,37.5 14 0 1 1448.53,964.09" fill="none" stroke="#000" stroke-width="0.7" stroke-linejoin="round" />
<path d="M1470.79,891.83 A27,37.5 14 0 1 1452.64,964.6" fill="none" stroke="#000" stroke-width="1.05" stroke-linejoin="round" />
<path d="M1472.49,892.13 A27,37.5 14 0 1 1454.34,964.9" fill="none" stroke="#000" stroke-width="0.7" stroke-linejoin="round" />
<path d="M1476.6,892.64 A27,37.5 14 0 1 1458.45,965.41" fill="none" stroke="#000" stroke-width="1.05" stroke-linejoin="round" />
<path d="M1478.3,892.94 A27,37.5 14 0 1 1460.15,965.71" fill="none" stroke="#000" stroke-width="0.7" stroke-linejoin="round" />
<path d="M1482.41,893.45 A27,37.5 14 0 1 1464.26,966.22" fill="none" stroke="#000" stroke-width="1.05" stroke-linejoin="round" />
<path d="M1484.11,893.75 A27,37.5 14 0 1 1465.96,966.52" fill="none" stroke="#000" stroke-width="0.7" stroke-linejoin="round" />
<path d="M1488.21,894.26 A27,37.5 14 0 1 1470.07,967.03" fill="none" stroke="#000" stroke-width="1.05" stroke-linejoin="round" />
<path d="M1489.91,894.56 A27,37.5 14 0 1 1471.77,967.33" fill="none" stroke="#000" stroke-width="0.7" stroke-linejoin="round" />
<path d="M1494.02,895.07 A27,37.5 14 0 1 1475.88,967.84" fill="none" stroke="#000" stroke-width="1.05" stroke-linejoin="round" />
<path d="M1495.72,895.37 A27,37.5 14 0 1 1477.58,968.14" fill="none" stroke="#000" stroke-width="0.7" stroke-linejoin="round" />
<path d="M1499.83,895.88 A27,37.5 14 0 1 1481.69,968.65" fill="none" stroke="#000" stroke-width="1.05" stroke-linejoin="round" />
<path d="M1501.53,896.18 A27,37.5 14 0 1 1483.39,968.95" fill="none" stroke="#000" stroke-width="0.7" stroke-linejoin="round" />
<path d="M1505.64,896.69 A27,37.5 14 0 1 1487.5,969.46" fill="none" stroke="#000" stroke-width="1.05" stroke-linejoin="round" />
<path d="M1507.34,896.99 A27,37.5 14 0 1 1489.2,969.76" fill="none" stroke="#000" stroke-width="0.7" stroke-linejoin="round" />
<path d="M1511.45,897.49 A27,37.5 14 0 1 1493.31,970.27" fill="none" stroke="#000" stroke-width="1.05" stroke-linejoin="round" />
<path d="M1513.15,897.79 A27,37.5 14 0 1 1495.01,970.57" fill="none" stroke="#000" stroke-width="0.7" stroke-linejoin="round" />
<path d="M1517.26,898.3 A27,37.5 14 0 1 1499.12,971.08" fill="none" stroke="#000" stroke-width="1.05" stroke-linejoin="round" />
<path d="M1518.96,898.6 A27,37.5 14 0 1 1500.82,971.38" fill="none" stroke="#000" stroke-width="0.7" stroke-linejoin="round" />
<path d="M1523.07,899.11 A27,37.5 14 0 1 1504.93,971.89" fill="none" stroke="#000" stroke-width="1.05" stroke-linejoin="round" />
<path d="M1524.77,899.41 A27,37.5 14 0 1 1506.63,972.19" fill="none" stroke="#000" stroke-width="0.7" stroke-linejoin="round" />
<path d="M1410,882.5 L1537.5,900" fill="none" stroke="#000" stroke-width="1.2" stroke-linejoin="round" />
<path d="M1400,955 L1507.5,972.5" fill="none" stroke="#000" stroke-width="1.5" stroke-linejoin="round" />
<path d="M1401,953 L1507,970.5" fill="none" stroke="#000" stroke-width="0.8" stroke-linejoin="round" />
<ellipse cx="1376" cy="915" rx="34" ry="46" fill="#fff" stroke="#000" stroke-width="1.3" transform="rotate(14 1376 915)"/>
<ellipse cx="1377" cy="915" rx="27.5" ry="37.5" fill="none" stroke="#000" stroke-width="1.3" transform="rotate(14 1377 915)"/>
<ellipse cx="1378" cy="915" rx="26" ry="36" fill="none" stroke="#000" stroke-width="0.8" transform="rotate(14 1378 915)"/>
<line x1="1598" y1="911.5" x2="1823" y2="815.6" stroke="#000" stroke-width="2.4" />
<line x1="1667.5" y1="799" x2="1760.5" y2="838.5" stroke="#000" stroke-width="2.4" />
<line x1="1768.75" y1="842.5" x2="1817.5" y2="863" stroke="#000" stroke-width="2.4" />
<path d="M1670.68,799.88 Q1670.68,801.75 1669.15,802.68 L1665.27,805.07 Q1663.75,806 1662.23,805.07 L1658.35,802.68 Q1656.82,801.75 1656.82,799.88 L1656.82,795.12 Q1656.82,793.25 1658.35,792.32 L1662.23,789.93 Q1663.75,789 1665.27,789.93 L1669.15,792.32 Q1670.68,793.25 1670.68,795.12 Z" fill="#fff" stroke="#000" stroke-width="1.7000000000000002" stroke-linejoin="round" />
<ellipse cx="1665.19" cy="797.92" rx="4.96" ry="6.12" fill="none" stroke="#000" stroke-width="1.1"/>
<ellipse cx="1666.15" cy="797.92" rx="2.88" ry="4.25" fill="none" stroke="#000" stroke-width="1.1" transform="rotate(10 1666.15 797.92)"/>
<line x1="1656.87" y1="796.65" x2="1659.75" y2="795.8" stroke="#000" stroke-width="0.8" />
<line x1="1659.75" y1="801.75" x2="1656.87" y2="799.2" stroke="#000" stroke-width="0.8" />
<path d="M1817.5,771 C1805,774 1796,782 1791,795 C1787,810 1789,825 1795,838 C1801,848 1809,854 1817.5,856" fill="none" stroke="#000" stroke-width="1.9" stroke-linejoin="round" />
<path d="M1813,775 C1804,782 1800,795 1800.5,808 C1801,822 1806,836 1816,845 L1829,853" fill="none" stroke="#000" stroke-width="1.6" stroke-linejoin="round" />
<path d="M1837.5,772.5 C1847,778 1856,788 1861,800 C1867,815 1868,830 1864,842 C1860,852 1852,859 1839,864" fill="none" stroke="#000" stroke-width="1.9" stroke-linejoin="round" />
<path d="M1827.5,780 C1838,786 1847,797 1852,812 C1856,826 1856,838 1851,848 C1846,855 1841,858 1836,859" fill="none" stroke="#000" stroke-width="1.6" stroke-linejoin="round" />
<path d="M1817.5,761 L1825.5,757 C1828.5,757 1829.5,759 1829.5,761 L1829.5,772 L1819.5,776 L1817.5,775 Z" fill="#fff" stroke="#000" stroke-width="1.5" stroke-linejoin="round" />
<ellipse cx="1823.5" cy="765.5" rx="2.2" ry="2.6" fill="none" stroke="#000" stroke-width="1.2"/>
<path d="M1826.5,765.5 L1834.5,761.5 C1837.5,761.5 1838.5,763.5 1838.5,765.5 L1838.5,776.5 L1828.5,780.5 L1826.5,779.5 Z" fill="#fff" stroke="#000" stroke-width="1.5" stroke-linejoin="round" />
<ellipse cx="1832.5" cy="770" rx="2.2" ry="2.6" fill="none" stroke="#000" stroke-width="1.2"/>
<path d="M1816.5,857 L1826.5,853 L1828.5,854 L1828.5,866 L1819.5,870 C1817.5,870 1816.5,869 1816.5,867 Z" fill="#fff" stroke="#000" stroke-width="1.5" stroke-linejoin="round" />
<ellipse cx="1822" cy="862" rx="2.2" ry="2.6" fill="none" stroke="#000" stroke-width="1.2"/>
<path d="M1826,861.5 L1836,857.5 L1838,858.5 L1838,870.5 L1829,874.5 C1827,874.5 1826,873.5 1826,871.5 Z" fill="#fff" stroke="#000" stroke-width="1.5" stroke-linejoin="round" />
<ellipse cx="1831.5" cy="866.5" rx="2.2" ry="2.6" fill="none" stroke="#000" stroke-width="1.2"/>
<line x1="1834" y1="869" x2="1872.5" y2="884" stroke="#000" stroke-width="1.8" />
<path d="M1895.43,889.49 L1874.17,881.42 Q1870.66,883.61 1871.83,887.58 L1893.09,895.66" fill="#fff" stroke="#000" stroke-width="1.7" stroke-linejoin="round" />
<ellipse cx="1874.12" cy="884.93" rx="1.81" ry="3.13" fill="none" stroke="#000" stroke-width="1.1" transform="rotate(-159.19 1874.12 884.93)"/>
<ellipse cx="1873.75" cy="884.78" rx="0.9" ry="1.2" fill="#000" stroke="#000" stroke-width="0.9"/>
<path d="M1902.76,895.19 Q1902.76,896.97 1901.33,897.86 L1899.43,899.05 Q1898,899.94 1896.57,899.05 L1894.67,897.86 Q1893.24,896.97 1893.24,895.19 L1893.24,892.81 Q1893.24,891.03 1894.67,890.14 L1896.57,888.95 Q1898,888.06 1899.43,888.95 L1901.33,890.14 Q1902.76,891.03 1902.76,892.81 Z" fill="#fff" stroke="#000" stroke-width="2.1" stroke-linejoin="round" />
<path d="M1899.08,894.77 Q1899.08,895.76 1898.49,896.26 L1896.72,897.74 Q1896.13,898.24 1895.54,897.74 L1893.77,896.26 Q1893.18,895.76 1893.18,894.77 L1893.18,891.8 Q1893.18,890.81 1893.77,890.32 L1895.54,888.83 Q1896.13,888.34 1896.72,888.83 L1898.49,890.32 Q1899.08,890.81 1899.08,891.8 Z" fill="none" stroke="#000" stroke-width="1.1" stroke-linejoin="round" />
<polygon points="1999,639 2089.5,676 2180,639 2180,759 2089.5,797.5 1999,757.5" fill="#fff" stroke="#000" stroke-width="0" stroke-linejoin="round" stroke="none"/>
<path d="M1999,639 L2032,625" fill="none" stroke="#000" stroke-width="1.9" stroke-linejoin="round" />
<path d="M2148,626 L2180,639" fill="none" stroke="#000" stroke-width="1.9" stroke-linejoin="round" />
<path d="M1999,639 L2089.5,676 L2180,639" fill="none" stroke="#000" stroke-width="1.9" stroke-linejoin="round" />
<line x1="1999" y1="639" x2="1999" y2="758" stroke="#000" stroke-width="1.9" />
<line x1="2089.5" y1="676" x2="2089.5" y2="797.5" stroke="#000" stroke-width="1.9" />
<line x1="2180" y1="639" x2="2180" y2="759" stroke="#000" stroke-width="1.9" />
<path d="M2048,777 L2089.5,797.5 L2180,759" fill="none" stroke="#000" stroke-width="1.9" stroke-linejoin="round" />
<path d="M2040,636 L2041,643 C2045,653 2065,659.5 2089,659.5 C2115,659.5 2133,653 2137.7,643 L2137.7,636 Z" fill="#fff" stroke="#000" stroke-width="0" stroke-linejoin="round" stroke="none"/>
<path d="M2040,636 L2041,643 C2045,653 2065,659.5 2089,659.5 C2115,659.5 2133,653 2137.7,643 L2137.7,636" fill="none" stroke="#000" stroke-width="1.55" stroke-linejoin="round" />
<path d="M2046,642 C2060,648 2075,650 2089,650 C2105,650 2122,647 2132,642" fill="none" stroke="#000" stroke-width="1.1" stroke-linejoin="round" />
<path d="M2031.5,618 L2032,632 C2040,638 2060,641.5 2086,641.3 C2115,641 2140,634 2148,628 L2149.8,614 Z" fill="#fff" stroke="#000" stroke-width="0" stroke-linejoin="round" stroke="none"/>
<path d="M2031.5,618 L2032,632 C2040,638 2060,641.5 2086,641.3 C2115,641 2140,634 2148,628 L2149.8,614" fill="none" stroke="#000" stroke-width="1.55" stroke-linejoin="round" />
<path d="M2034,629 C2050,635 2070,638 2086,638 C2110,638 2130,633 2140,628" fill="none" stroke="#000" stroke-width="1.0" stroke-linejoin="round" />
<path d="M2028,604 L2028,613 C2030,620 2050,628 2083,630 C2120,630 2140,622 2148,616 L2150,604 Z" fill="#fff" stroke="#000" stroke-width="0" stroke-linejoin="round" stroke="none"/>
<path d="M2028,604 L2028,613 C2030,620 2050,628 2083,630 C2120,630 2140,622 2148,616 L2150,604" fill="none" stroke="#000" stroke-width="1.55" stroke-linejoin="round" />
<path d="M2045,616 C2060,620 2075,621.3 2085,621.3 C2105,621 2122,618 2132.5,615.5" fill="none" stroke="#000" stroke-width="1.4" stroke-linejoin="round" />
<path d="M2036,609 C2034,614 2036,619 2040,619 L2042,614" fill="none" stroke="#000" stroke-width="0.9" stroke-linejoin="round" />
<path d="M2133,614 L2136,619 C2140,618 2142,614 2140,611" fill="none" stroke="#000" stroke-width="0.9" stroke-linejoin="round" />
<path d="M2028,592 L2028.5,601 C2035,608 2055,612.8 2086,613.3 C2115,613 2140,607 2148,601.6 L2149,592 Z" fill="#fff" stroke="#000" stroke-width="0" stroke-linejoin="round" stroke="none"/>
<path d="M2028,592 L2028.5,601 C2035,608 2055,612.8 2086,613.3 C2115,613 2140,607 2148,601.6 L2149,592" fill="none" stroke="#000" stroke-width="1.55" stroke-linejoin="round" />
<path d="M2032,598 C2045,604 2060,607 2086,608 C2112,607 2135,602 2145,597" fill="none" stroke="#000" stroke-width="1.0" stroke-linejoin="round" />
<path d="M2031.5,561 C2026,567 2023.2,575 2023.4,581 C2024,587 2030,591 2045,594.5 C2060,597 2075,597.5 2092,597 C2112,596.5 2132,594 2145,590 C2152,587.5 2155.5,585 2155,582 C2154.5,575 2151,566 2146.5,561 Z" fill="#fff" stroke="#000" stroke-width="1.55" stroke-linejoin="round" />
<ellipse cx="2089.4" cy="568.6" rx="58" ry="24.6" fill="#fff" stroke="#000" stroke-width="1.55"/>
<ellipse cx="2089.4" cy="568.5" rx="50.8" ry="21.8" fill="none" stroke="#000" stroke-width="1.45"/>
<path d="M2048.5,582 C2060,573 2075,570.6 2089,570.6 C2103,570.6 2118,573.5 2128,581" fill="none" stroke="#000" stroke-width="2.1" stroke-linejoin="round" />
<polygon points="1946.7,777.6 1997.2,756.5 2020,766 2020,781.5 1979.2,798.8 1946.7,784.7" fill="#fff" stroke="#000" stroke-width="0" stroke-linejoin="round" stroke="none"/>
<line x1="1946.7" y1="777.6" x2="1997.2" y2="756.5" stroke="#000" stroke-width="1.6" />
<polyline points="1946.7,777.6 1979.2,791.7 2020,775.3" fill="none" stroke="#000" stroke-width="1.6" stroke-linejoin="round" />
<polyline points="1946.7,777.6 1946.7,784.7 1979.2,798.8 2020,781.5 2020,775.3" fill="none" stroke="#000" stroke-width="1.6" stroke-linejoin="round" />
<line x1="1979.2" y1="791.7" x2="1979.2" y2="798.8" stroke="#000" stroke-width="1.4" />
<ellipse cx="1982.3" cy="778.8" rx="5.2" ry="2.4" fill="none" stroke="#000" stroke-width="1.2"/>
<line x1="2020" y1="775.3" x2="2053" y2="788.6" stroke="#000" stroke-width="1.4" />
<line x1="2020" y1="781.5" x2="2046" y2="792" stroke="#000" stroke-width="1.4" />
<ellipse cx="2032" cy="724.6" rx="44.5" ry="57" fill="#fff" stroke="#000" stroke-width="1.6" transform="rotate(-13 2032 724.6)"/>
<ellipse cx="2031" cy="723.5" rx="38.5" ry="51.5" fill="none" stroke="#000" stroke-width="1.5" transform="rotate(-13 2031 723.5)"/>
<ellipse cx="2030.6" cy="723.3" rx="36.8" ry="50" fill="none" stroke="#000" stroke-width="1.0" transform="rotate(-13 2030.6 723.3)"/>
<ellipse cx="2030.2" cy="723.2" rx="35.6" ry="49" fill="none" stroke="#000" stroke-width="0.8" transform="rotate(-13 2030.2 723.2)"/>
<path d="M2017,699 L2040,690" fill="none" stroke="#000" stroke-width="1.0" stroke-linejoin="round" />
<path d="M2018,700 C2015,712 2017,724 2024,733 L2041,716" fill="none" stroke="#000" stroke-width="1.0" stroke-linejoin="round" />
<path d="M2024,733 C2028,745 2035,755 2044,760" fill="none" stroke="#000" stroke-width="1.0" stroke-linejoin="round" />
<line x1="2012.5" y1="703" x2="2058" y2="720" stroke="#000" stroke-width="2.0" />
<line x1="2041" y1="748" x2="2058" y2="757" stroke="#000" stroke-width="2.0" />
<line x1="2030" y1="725" x2="1940" y2="763.4" stroke="#000" stroke-width="2.0" />
<path d="M2183,697 L2191,700 L2191,705 L2183,709 Z" fill="#fff" stroke="#000" stroke-width="1.2" stroke-linejoin="round" />
<path d="M2176,697 C2179,698 2181,702 2180,706" fill="none" stroke="#000" stroke-width="1.0" stroke-linejoin="round" />
<path d="M2154,714 L2180,703 M2156,719.5 L2181,709 M2154,714 C2152,715.5 2153,719 2156,719.5" fill="none" stroke="#000" stroke-width="1.2" stroke-linejoin="round" />
<path d="M2158,732 L2179,708 M2162,735 L2183,712 M2158,732 C2157,734.5 2159,736 2162,735" fill="none" stroke="#000" stroke-width="1.2" stroke-linejoin="round" />
<path d="M2067,817 C2090,820 2130,812 2145,798 C2150,790 2148,787 2140,787" fill="none" stroke="#000" stroke-width="1.6" stroke-linejoin="round" />
<path d="M2070,813 C2090,815 2125,808 2138,795" fill="none" stroke="#000" stroke-width="1.0" stroke-linejoin="round" />
<path d="M2031,790 C2030,794 2030.5,797 2032.5,798.5" fill="none" stroke="#000" stroke-width="1.4" stroke-linejoin="round" />
<polygon points="2012.1,805.1 2052.9,788.2 2089.5,797.5 2223,716.5 2256,729.7 2256,737 2045,826.3 2012.1,812.6" fill="#fff" stroke="#000" stroke-width="0" stroke-linejoin="round" stroke="none"/>
<line x1="2012.1" y1="805.1" x2="2052.9" y2="788.2" stroke="#000" stroke-width="1.6" />
<polyline points="2012.1,812.6 2012.1,805.1 2045,818.8 2256,729.7 2256,737 2045,826.3 2012.1,812.6" fill="none" stroke="#000" stroke-width="1.6" stroke-linejoin="round" />
<line x1="2045" y1="818.8" x2="2045" y2="826.3" stroke="#000" stroke-width="1.4" />
<line x1="2256" y1="729.7" x2="2223" y2="716.5" stroke="#000" stroke-width="1.6" />
<line x1="2180" y1="734" x2="2218.7" y2="718.4" stroke="#000" stroke-width="1.6" />
<line x1="2052.9" y1="788.2" x2="2046" y2="791" stroke="#000" stroke-width="1.3" />
<line x1="2089.5" y1="797.5" x2="2180" y2="759" stroke="#000" stroke-width="1.9" />
<ellipse cx="2042.3" cy="804.3" rx="5.2" ry="2.4" fill="none" stroke="#000" stroke-width="1.2"/>
<ellipse cx="2223" cy="728" rx="3.5" ry="1.8" fill="none" stroke="#000" stroke-width="1.1"/>
<line x1="1862" y1="796" x2="2030" y2="725" stroke="#000" stroke-width="2.4" />
<line x1="2223" y1="620" x2="2223" y2="667" stroke="#000" stroke-width="1.8" />
<line x1="2223" y1="682.5" x2="2223" y2="727.5" stroke="#000" stroke-width="1.8" />
<path d="M2217.5,587 L2217.5,617 C2217.5,620 2220,621 2222.5,621 C2225,621 2227.5,620 2227.5,617 L2227.5,587" fill="#fff" stroke="#000" stroke-width="1.6" stroke-linejoin="round" />
<path d="M2213.5,578 C2214,575 2218,574 2222,574 C2227,574 2231,575 2231,578 L2231,584 C2230,587 2226,588 2222,588 C2218,588 2214,587 2213.5,584 Z" fill="#fff" stroke="#000" stroke-width="1.6" stroke-linejoin="round" />
<line x1="2215" y1="580" x2="2230" y2="580" stroke="#000" stroke-width="1.0" />
<line x1="2219" y1="580" x2="2219" y2="587" stroke="#000" stroke-width="1.0" />
<line x1="2226" y1="580" x2="2226" y2="587" stroke="#000" stroke-width="1.0" />
<ellipse cx="2223" cy="673" rx="11.5" ry="5.5" fill="#fff" stroke="#444" stroke-width="1.0"/>
<ellipse cx="2223" cy="672" rx="5" ry="2.2" fill="none" stroke="#444" stroke-width="0.9"/>
<ellipse cx="2223" cy="675" rx="11.5" ry="4.8" fill="none" stroke="#666" stroke-width="0.6"/>
<line x1="2223.2" y1="752" x2="2223.2" y2="1060.5" stroke="#000" stroke-width="1.6" />
<line x1="1976" y1="949" x2="2029" y2="970" stroke="#000" stroke-width="1.8" />
<line x1="2127.5" y1="985" x2="2083" y2="967" stroke="#000" stroke-width="1.8" />
<line x1="2082" y1="965.6" x2="2049.4" y2="980" stroke="#000" stroke-width="1.8" />
<line x1="2246" y1="1058.6" x2="2328.5" y2="1024" stroke="#000" stroke-width="2.4" />
<path d="M2057.5,983 L2431.9,1140.4 L2434.4,1188.2 L2417.1,1200.5 L2049,1047.5 Z" fill="#fff" stroke="#000" stroke-width="0" stroke-linejoin="round" stroke="none"/>
<path d="M2057.5,983 L2431.9,1140.4" fill="none" stroke="#000" stroke-width="1.9" stroke-linejoin="round" />
<path d="M2057.5,983 C2050,985 2040,989 2034,994 C2030,998 2029,1004 2030,1010 L2035,1034 C2036,1038 2037,1040 2039,1041" fill="none" stroke="#000" stroke-width="1.9" stroke-linejoin="round" />
<path d="M2031,998 L2404.8,1155.7" fill="none" stroke="#000" stroke-width="1.9" stroke-linejoin="round" />
<path d="M2049,1047.5 L2410.7,1198.1" fill="none" stroke="#000" stroke-width="1.9" stroke-linejoin="round" />
<path d="M2431.9,1140.4 L2410.7,1149.2 C2408,1150.5 2405.5,1153 2404.8,1155.7 L2403.6,1163 C2403.3,1165 2403.5,1166 2404,1168 L2410.7,1198.1 C2411.5,1200 2414,1201 2417.1,1200.5 C2419,1200 2420.5,1199.5 2421.6,1198.6 L2434.4,1188.2 L2433.4,1184.8" fill="none" stroke="#000" stroke-width="1.9" stroke-linejoin="round" />
<path d="M2431.9,1140.4 L2432.4,1144.3 L2411.7,1152.2 C2409.5,1153.2 2408,1155 2407.8,1157.1 L2407.3,1162.1 L2414.7,1193.2 C2415.3,1195 2416.5,1195.8 2417.6,1195.6 C2419,1195.5 2420.5,1195 2421.6,1194.1 L2432.9,1185.8 L2433.4,1184.8" fill="none" stroke="#000" stroke-width="1.7" stroke-linejoin="round" />
<path d="M2419.1,1150.7 L2419.1,1179.3 L2433.4,1184.8 M2419.1,1179.3 L2412.7,1183.8" fill="none" stroke="#000" stroke-width="1.5" stroke-linejoin="round" />
<ellipse cx="2174.4" cy="1042.75" rx="4.5" ry="1.9" fill="none" stroke="#000" stroke-width="1.3"/>
<ellipse cx="2223" cy="1063.5" rx="4.5" ry="1.9" fill="none" stroke="#000" stroke-width="1.3"/>
<path d="M2022.5,973 L2057.5,958.75 C2060,958 2062,959 2062.5,962 L2061,972.5" fill="#fff" stroke="#000" stroke-width="1.9" stroke-linejoin="round" />
<path d="M2022.5,973 L2022.5,1057.5 C2023,1059.5 2025,1060.5 2027,1059.5 L2048,1050.6 C2049.5,1049.5 2049.5,1048 2049.4,1046" fill="none" stroke="#000" stroke-width="1.9" stroke-linejoin="round" />
<line x1="2025" y1="975" x2="2025.6" y2="1059" stroke="#000" stroke-width="1.1" />
<line x1="2025" y1="974" x2="2059.5" y2="960" stroke="#000" stroke-width="1.1" />
<path d="M2041,975 C2043,972 2047,973 2047,976 C2046,979 2043,980 2041,978" fill="none" stroke="#000" stroke-width="1.2" stroke-linejoin="round" />
<path d="M2057.5,983 C2050,985 2040,989 2034,994 C2030,998 2029,1004 2030,1010 L2035,1034 C2036,1038 2037,1040 2039,1041 L2049,1047.5 L2060,1050 L2060,983 Z" fill="#fff" stroke="#000" stroke-width="0" stroke-linejoin="round" stroke="none"/>
<path d="M2057.5,983 C2050,985 2040,989 2034,994 C2030,998 2029,1004 2030,1010 L2035,1034 C2036,1038 2037,1040 2039,1041 L2049,1047.5" fill="none" stroke="#000" stroke-width="1.9" stroke-linejoin="round" />
<path d="M2031,998 L2060,1010" fill="none" stroke="#000" stroke-width="1.9" stroke-linejoin="round" />
<path d="M2145.66,989.94 Q2145.66,992.25 2143.75,993.4 L2138.91,996.35 Q2137,997.5 2135.09,996.35 L2130.25,993.4 Q2128.34,992.25 2128.34,989.94 L2128.34,984.06 Q2128.34,981.75 2130.25,980.6 L2135.09,977.65 Q2137,976.5 2138.91,977.65 L2143.75,980.6 Q2145.66,981.75 2145.66,984.06 Z" fill="#fff" stroke="#000" stroke-width="1.7000000000000002" stroke-linejoin="round" />
<ellipse cx="2138.8" cy="987.52" rx="6.2" ry="7.56" fill="none" stroke="#000" stroke-width="1.1"/>
<ellipse cx="2140" cy="987.52" rx="3.6" ry="5.25" fill="none" stroke="#000" stroke-width="1.1" transform="rotate(10 2140 987.52)"/>
<line x1="2128.4" y1="985.95" x2="2132" y2="984.9" stroke="#000" stroke-width="0.8" />
<line x1="2132" y1="992.25" x2="2128.4" y2="989.1" stroke="#000" stroke-width="0.8" />
<path d="M2343.56,1024.2 Q2343.56,1027.5 2340.79,1029.15 L2333.76,1033.35 Q2331,1035 2328.24,1033.35 L2321.21,1029.15 Q2318.44,1027.5 2318.44,1024.2 L2318.44,1015.8 Q2318.44,1012.5 2321.21,1010.85 L2328.24,1006.65 Q2331,1005 2333.76,1006.65 L2340.79,1010.85 Q2343.56,1012.5 2343.56,1015.8 Z" fill="#fff" stroke="#000" stroke-width="2.0" stroke-linejoin="round" />
<ellipse cx="2333.61" cy="1020.75" rx="8.99" ry="10.8" fill="none" stroke="#000" stroke-width="1.1"/>
<ellipse cx="2335.35" cy="1020.75" rx="5.22" ry="7.5" fill="none" stroke="#000" stroke-width="1.1" transform="rotate(10 2335.35 1020.75)"/>
<line x1="2318.53" y1="1018.5" x2="2323.75" y2="1017" stroke="#000" stroke-width="0.8" />
<line x1="2323.75" y1="1027.5" x2="2318.53" y2="1023" stroke="#000" stroke-width="0.8" />
<path d="M1942.92,937.43 L1973.87,953.58 Q1978.22,950.66 1978.13,945.42 L1947.17,929.27" fill="#fff" stroke="#000" stroke-width="1.7" stroke-linejoin="round" />
<ellipse cx="1974.94" cy="948.94" rx="2.53" ry="4.37" fill="none" stroke="#000" stroke-width="1.1" transform="rotate(27.55 1974.94 948.94)"/>
<ellipse cx="1975.29" cy="949.13" rx="0.9" ry="1.2" fill="#000" stroke="#000" stroke-width="0.9"/>
<path d="M1948,933.12 Q1948,935.55 1946.05,936.76 L1943.45,938.38 Q1941.5,939.6 1939.55,938.38 L1936.95,936.76 Q1935,935.55 1935,933.12 L1935,929.88 Q1935,927.45 1936.95,926.24 L1939.55,924.62 Q1941.5,923.4 1943.45,924.62 L1946.05,926.24 Q1948,927.45 1948,929.88 Z" fill="#fff" stroke="#000" stroke-width="2.1" stroke-linejoin="round" />
<path d="M1947.3,934.45 Q1947.3,935.8 1946.49,936.48 L1944.08,938.5 Q1943.27,939.18 1942.47,938.5 L1940.05,936.48 Q1939.25,935.8 1939.25,934.45 L1939.25,930.4 Q1939.25,929.05 1940.05,928.38 L1942.47,926.35 Q1943.27,925.68 1944.08,926.35 L1946.49,928.38 Q1947.3,929.05 1947.3,930.4 Z" fill="none" stroke="#000" stroke-width="1.1" stroke-linejoin="round" />
<path d="M1947.12,985.88 L1979.01,1001.15 Q1983.25,998.08 1982.99,992.85 L1951.09,977.58" fill="#fff" stroke="#000" stroke-width="1.7" stroke-linejoin="round" />
<ellipse cx="1979.92" cy="996.48" rx="2.53" ry="4.37" fill="none" stroke="#000" stroke-width="1.1" transform="rotate(25.59 1979.92 996.48)"/>
<ellipse cx="1980.28" cy="996.65" rx="0.9" ry="1.2" fill="#000" stroke="#000" stroke-width="0.9"/>
<path d="M1951.56,981.51 Q1951.56,983.78 1949.74,984.91 L1947.32,986.43 Q1945.5,987.56 1943.68,986.43 L1941.26,984.91 Q1939.44,983.78 1939.44,981.51 L1939.44,978.49 Q1939.44,976.22 1941.26,975.09 L1943.68,973.57 Q1945.5,972.44 1947.32,973.57 L1949.74,975.09 Q1951.56,976.22 1951.56,978.49 Z" fill="#fff" stroke="#000" stroke-width="2.1" stroke-linejoin="round" />
<path d="M1951.06,982.75 Q1951.06,984.01 1950.31,984.64 L1948.06,986.53 Q1947.3,987.16 1946.55,986.53 L1944.3,984.64 Q1943.55,984.01 1943.55,982.75 L1943.55,978.97 Q1943.55,977.71 1944.3,977.08 L1946.55,975.19 Q1947.3,974.56 1948.06,975.19 L1950.31,977.08 Q1951.06,977.71 1951.06,978.97 Z" fill="none" stroke="#000" stroke-width="1.1" stroke-linejoin="round" />
<line x1="1981" y1="997" x2="1988" y2="1001" stroke="#000" stroke-width="1.8" />
<ellipse cx="2000" cy="1006.5" rx="10.5" ry="12.5" fill="#fff" stroke="#4a3a30" stroke-width="1.2" transform="rotate(15 2000 1006.5)"/>
<ellipse cx="2000" cy="1007" rx="3.5" ry="5.5" fill="none" stroke="#4a3a30" stroke-width="1.0" transform="rotate(15 2000 1007)"/>
<line x1="2006" y1="1009" x2="2009" y2="1010.5" stroke="#000" stroke-width="1.8" />
<line x1="2013" y1="1011.5" x2="2017.5" y2="1013.5" stroke="#000" stroke-width="1.8" />
<polygon points="1846.25,1090.65 2238,1255.38 2243.5,1261 2233,1311 2228.6,1317 2211.3,1319.4 1838.75,1162 1819.4,1161.25 1805,1083 1805,1076.25 1843.1,1060 1847.25,1062.25" fill="#fff" stroke="#000" stroke-width="0" stroke-linejoin="round" stroke="none"/>
<path d="M1805,1083 L1805,1076.25 L1843.1,1060 C1845.5,1059.5 1847.25,1060.5 1847.25,1062.5 L1847.25,1089.4" fill="none" stroke="#000" stroke-width="1.9" stroke-linejoin="round" />
<path d="M1805,1083 L1819.4,1161.25 C1820,1163 1821.5,1163.5 1823.1,1162.75 L1841.9,1154.4" fill="none" stroke="#000" stroke-width="1.9" stroke-linejoin="round" />
<line x1="1807.5" y1="1077.6" x2="1843.5" y2="1062.2" stroke="#000" stroke-width="1.1" />
<line x1="1807.6" y1="1083.5" x2="1821.9" y2="1161.2" stroke="#000" stroke-width="1.1" />
<ellipse cx="1828" cy="1078.9" rx="2.4" ry="3.9" fill="none" stroke="#000" stroke-width="1.5" transform="rotate(20 1828 1078.9)"/>
<ellipse cx="1828" cy="1121.2" rx="2.4" ry="3.9" fill="none" stroke="#000" stroke-width="1.5" transform="rotate(20 1828 1121.2)"/>
<path d="M1813.75,1102.5 L1813.75,1097.5 C1813,1095 1815,1093.5 1818,1092.5 L1834,1087.9 C1838,1086.8 1841,1087.5 1846.25,1090.6 L2237.2,1255.2 C2240.5,1255.5 2243.3,1258 2243.6,1262 L2243.6,1266" fill="none" stroke="#000" stroke-width="1.9" stroke-linejoin="round" />
<path d="M1813.75,1097.5 L2213,1265.18 L2237.2,1255.2" fill="none" stroke="#000" stroke-width="1.9" stroke-linejoin="round" />
<path d="M1813.75,1102.5 L2213,1270.78 L2236.4,1261.2 C2238,1260.8 2239.2,1262 2238.9,1264 L2229.4,1310 C2228.5,1312 2227,1312.5 2225,1312.8 L2212.2,1314.3" fill="none" stroke="#000" stroke-width="1.9" stroke-linejoin="round" />
<line x1="2213" y1="1265.18" x2="2213" y2="1270.78" stroke="#000" stroke-width="1.9" />
<path d="M2243.6,1266 L2233,1310.8 C2231.5,1315 2229,1317.5 2224,1318.2 L2211.3,1319.4" fill="none" stroke="#000" stroke-width="1.9" stroke-linejoin="round" />
<path d="M1837.5,1113.8 L1833.2,1136.5 C1832.3,1140.5 1830.5,1142.8 1827,1143.6 L1821.9,1144.5" fill="none" stroke="#000" stroke-width="1.7" stroke-linejoin="round" />
<line x1="1832.5" y1="1142.88" x2="1905" y2="1173.33" stroke="#000" stroke-width="1.8" />
<line x1="1923.8" y1="1181.22" x2="2050" y2="1234.22" stroke="#000" stroke-width="1.8" />
<line x1="2068.8" y1="1242.12" x2="2195" y2="1295.12" stroke="#000" stroke-width="1.8" />
<line x1="2213.8" y1="1303.02" x2="2229.4" y2="1309.57" stroke="#000" stroke-width="1.8" />
<path d="M1821.9,1146.3 L1841.25,1153.75 C1843,1154.5 1843,1156 1841.5,1156.8 L1838.75,1158 L1838.75,1162.2" fill="none" stroke="#000" stroke-width="1.7" stroke-linejoin="round" />
<line x1="1838.75" y1="1157.3" x2="2211.3" y2="1314.27" stroke="#000" stroke-width="1.9" />
<line x1="1838.75" y1="1162" x2="2211.3" y2="1319.37" stroke="#000" stroke-width="1.9" />
<line x1="2211.3" y1="1314.27" x2="2211.3" y2="1319.37" stroke="#000" stroke-width="1.6" />
<line x1="1905" y1="1141.03" x2="1905" y2="1185.33" stroke="#000" stroke-width="1.7" />
<line x1="1909.8" y1="1143.03" x2="1909.8" y2="1186.83" stroke="#000" stroke-width="1.7" />
<path d="M1909.8,1186.83 L1919.5,1186.21 L1930,1171.83" fill="none" stroke="#000" stroke-width="1.6" stroke-linejoin="round" />
<line x1="2050" y1="1201.92" x2="2050" y2="1246.22" stroke="#000" stroke-width="1.7" />
<line x1="2054.8" y1="1203.92" x2="2054.8" y2="1247.72" stroke="#000" stroke-width="1.7" />
<path d="M2054.8,1247.72 L2064.5,1247.12 L2075,1232.72" fill="none" stroke="#000" stroke-width="1.6" stroke-linejoin="round" />
<line x1="2195" y1="1262.83" x2="2195" y2="1307.12" stroke="#000" stroke-width="1.7" />
<line x1="2199.8" y1="1264.83" x2="2199.8" y2="1308.62" stroke="#000" stroke-width="1.7" />
<path d="M2199.8,1308.62 L2209.5,1308.01 L2220,1293.62" fill="none" stroke="#000" stroke-width="1.6" stroke-linejoin="round" />
<path d="M2212.2,1303.9 L2229.4,1310.4" fill="none" stroke="#000" stroke-width="1.6" stroke-linejoin="round" />
<ellipse cx="1967.5" cy="1150" rx="4.2" ry="2.1" fill="none" stroke="#000" stroke-width="1.4"/>
<ellipse cx="2018.75" cy="1171.25" rx="4.2" ry="2.1" fill="none" stroke="#000" stroke-width="1.4"/>
<ellipse cx="1933.75" cy="1192.8" rx="3.8" ry="1.7" fill="#222" stroke="#000" stroke-width="1.4"/>
<ellipse cx="2072.5" cy="1252.5" rx="3.8" ry="1.7" fill="#222" stroke="#000" stroke-width="1.4"/>
<ellipse cx="2171.5" cy="1294" rx="3.8" ry="1.7" fill="#222" stroke="#000" stroke-width="1.4"/>
<line x1="440" y1="447.5" x2="440" y2="500" stroke="#000" stroke-width="3.2" />
<text x="416.5" y="435" class="lb">2</text>
<text x="436" y="435" class="lb">0</text>
<line x1="647.5" y1="510" x2="647.5" y2="562" stroke="#000" stroke-width="3.2" />
<text x="627" y="495" class="lb">2</text>
<text x="648" y="495" class="lb">2</text>
<line x1="319" y1="586" x2="319" y2="635" stroke="#000" stroke-width="3.2" />
<path d="M303.2,654 L307.5,654 L307.5,680 L302.7,680 L302.7,662.6 C300.8,664.3 298.6,665.5 296,666.3 L296,661.8 C297.8,661.1 299.5,660 301,658.6 C302.2,657.4 302.9,655.8 303.2,654 Z" fill="#000"/>
<text x="313" y="680" class="lb">9</text>
<line x1="962.5" y1="439.5" x2="962.5" y2="490" stroke="#000" stroke-width="3.2" />
<text x="952" y="419" class="lb">7</text>
<line x1="1111" y1="750" x2="1111" y2="802.5" stroke="#000" stroke-width="3.2" />
<text x="1101" y="736.5" class="lb">8</text>
<line x1="797" y1="792.5" x2="797" y2="834" stroke="#000" stroke-width="3.2" />
<text x="788.25" y="878" class="lb">6</text>
<line x1="866.5" y1="894" x2="918" y2="894" stroke="#000" stroke-width="3.2" />
<text x="823" y="909" class="lb">2</text>
<text x="842.5" y="909" class="lb">3</text>
<line x1="756.5" y1="991" x2="756.5" y2="1042.5" stroke="#000" stroke-width="3.2" />
<text x="749" y="977.5" class="lb">3</text>
<line x1="752" y1="1094" x2="752" y2="1142" stroke="#000" stroke-width="3.2" />
<path d="M753.45,1164 L757.75,1164 L757.75,1190 L752.95,1190 L752.95,1172.6 C751.05,1174.3 748.85,1175.5 746.25,1176.3 L746.25,1171.8 C748.05,1171.1 749.75,1170 751.25,1168.6 C752.45,1167.4 753.15,1165.8 753.45,1164 Z" fill="#000"/>
<line x1="859.5" y1="1159" x2="859.5" y2="1207.5" stroke="#000" stroke-width="3.2" />
<text x="839" y="1257.5" class="lb">2</text>
<path d="M869.7,1231.5 L874,1231.5 L874,1257.5 L869.2,1257.5 L869.2,1240.1 C867.3,1241.8 865.1,1243 862.5,1243.8 L862.5,1239.3 C864.3,1238.6 866,1237.5 867.5,1236.1 C868.7,1234.9 869.4,1233.3 869.7,1231.5 Z" fill="#000"/>
<line x1="937" y1="1192" x2="937" y2="1240.5" stroke="#000" stroke-width="3.2" />
<text x="926" y="1282.5" class="lb">4</text>
<line x1="1093" y1="1089" x2="1144" y2="1089" stroke="#000" stroke-width="3.2" />
<text x="1167.75" y="1100" class="lb">6</text>
<line x1="1095" y1="1150" x2="1146.5" y2="1150" stroke="#000" stroke-width="3.2" />
<text x="1170.25" y="1162.5" class="lb">5</text>
<line x1="1095" y1="1211" x2="1146.5" y2="1211" stroke="#000" stroke-width="3.2" />
<text x="1171.5" y="1224" class="lb">5</text>
<line x1="1068" y1="1332.5" x2="1068" y2="1380" stroke="#000" stroke-width="3.2" />
<text x="1059.75" y="1422.5" class="lb">2</text>
<line x1="1452" y1="832.5" x2="1452" y2="885" stroke="#000" stroke-width="3.2" />
<text x="1444.88" y="817.5" class="lb">9</text>
<line x1="1664" y1="735" x2="1664" y2="787" stroke="#000" stroke-width="3.2" />
<text x="1654.3" y="719" class="lb">5</text>
<line x1="1824" y1="876" x2="1824" y2="924" stroke="#000" stroke-width="3.2" />
<path d="M1811.95,940 L1816.25,940 L1816.25,966 L1811.45,966 L1811.45,948.6 C1809.55,950.3 1807.35,951.5 1804.75,952.3 L1804.75,947.8 C1806.55,947.1 1808.25,946 1809.75,944.6 C1810.95,943.4 1811.65,941.8 1811.95,940 Z" fill="#000"/>
<text x="1822" y="966" class="lb">0</text>
<line x1="1895.5" y1="901" x2="1895.5" y2="950" stroke="#000" stroke-width="3.2" />
<path d="M1886.45,968 L1890.75,968 L1890.75,994 L1885.95,994 L1885.95,976.6 C1884.05,978.3 1881.85,979.5 1879.25,980.3 L1879.25,975.8 C1881.05,975.1 1882.75,974 1884.25,972.6 C1885.45,971.4 1886.15,969.8 1886.45,968 Z" fill="#000"/>
<path d="M1904.7,968 L1909,968 L1909,994 L1904.2,994 L1904.2,976.6 C1902.3,978.3 1900.1,979.5 1897.5,980.3 L1897.5,975.8 C1899.3,975.1 1901,974 1902.5,972.6 C1903.7,971.4 1904.4,969.8 1904.7,968 Z" fill="#000"/>
<line x1="1965" y1="877" x2="1965" y2="928" stroke="#000" stroke-width="3.2" />
<path d="M1954.7,841.5 L1959,841.5 L1959,867.5 L1954.2,867.5 L1954.2,850.1 C1952.3,851.8 1950.1,853 1947.5,853.8 L1947.5,849.3 C1949.3,848.6 1951,847.5 1952.5,846.1 C1953.7,844.9 1954.4,843.3 1954.7,841.5 Z" fill="#000"/>
<text x="1963.5" y="867.5" class="lb">7</text>
<line x1="2137.5" y1="922.5" x2="2137.5" y2="974" stroke="#000" stroke-width="3.2" />
<text x="2126.25" y="912.5" class="lb">2</text>
<line x1="1959" y1="996" x2="1959" y2="1045" stroke="#000" stroke-width="3.2" />
<path d="M1948.2,1055 L1952.5,1055 L1952.5,1081 L1947.7,1081 L1947.7,1063.6 C1945.8,1065.3 1943.6,1066.5 1941,1067.3 L1941,1062.8 C1942.8,1062.1 1944.5,1061 1946,1059.6 C1947.2,1058.4 1947.9,1056.8 1948.2,1055 Z" fill="#000"/>
<text x="1960" y="1081" class="lb">6</text>
<line x1="2000" y1="1029" x2="2000" y2="1080" stroke="#000" stroke-width="3.2" />
<path d="M1989.7,1094 L1994,1094 L1994,1120 L1989.2,1120 L1989.2,1102.6 C1987.3,1104.3 1985.1,1105.5 1982.5,1106.3 L1982.5,1101.8 C1984.3,1101.1 1986,1100 1987.5,1098.6 C1988.7,1097.4 1989.4,1095.8 1989.7,1094 Z" fill="#000"/>
<text x="1997.5" y="1120" class="lb">4</text>
<line x1="2089.5" y1="490" x2="2089.5" y2="542.5" stroke="#000" stroke-width="3.2" />
<path d="M2081.2,439 L2085.5,439 L2085.5,465 L2080.7,465 L2080.7,447.6 C2078.8,449.3 2076.6,450.5 2074,451.3 L2074,446.8 C2075.8,446.1 2077.5,445 2079,443.6 C2080.2,442.4 2080.9,440.8 2081.2,439 Z" fill="#000"/>
<text x="2090" y="465" class="lb">2</text>
<line x1="2233" y1="581" x2="2285" y2="581" stroke="#000" stroke-width="3.2" />
<path d="M2311.2,570 L2315.5,570 L2315.5,596 L2310.7,596 L2310.7,578.6 C2308.8,580.3 2306.6,581.5 2304,582.3 L2304,577.8 C2305.8,577.1 2307.5,576 2309,574.6 C2310.2,573.4 2310.9,571.8 2311.2,570 Z" fill="#000"/>
<text x="2320" y="596" class="lb">3</text>
<line x1="2236" y1="673" x2="2288" y2="673" stroke="#000" stroke-width="3.2" />
<path d="M2314.2,660 L2318.5,660 L2318.5,686 L2313.7,686 L2313.7,668.6 C2311.8,670.3 2309.6,671.5 2307,672.3 L2307,667.8 C2308.8,667.1 2310.5,666 2312,664.6 C2313.2,663.4 2313.9,661.8 2314.2,660 Z" fill="#000"/>
<text x="2323" y="686" class="lb">4</text>
<line x1="2349" y1="1019.5" x2="2400.5" y2="1019.5" stroke="#000" stroke-width="3.2" />
<text x="2420.5" y="1035" class="lb">2</text>
<line x1="2411.8" y1="1203" x2="2411.8" y2="1251.8" stroke="#000" stroke-width="3.2" />
<path d="M2404.6,1271.3 L2408.9,1271.3 L2408.9,1297.3 L2404.1,1297.3 L2404.1,1279.9 C2402.2,1281.6 2400,1282.8 2397.4,1283.6 L2397.4,1279.1 C2399.2,1278.4 2400.9,1277.3 2402.4,1275.9 C2403.6,1274.7 2404.3,1273.1 2404.6,1271.3 Z" fill="#000"/>
<text x="2415.4" y="1297.3" class="lb">5</text>
<line x1="2199.5" y1="1320" x2="2199.5" y2="1367.5" stroke="#000" stroke-width="3.2" />
<path d="M2191.2,1383 L2195.5,1383 L2195.5,1409 L2190.7,1409 L2190.7,1391.6 C2188.8,1393.3 2186.6,1394.5 2184,1395.3 L2184,1390.8 C2185.8,1390.1 2187.5,1389 2189,1387.6 C2190.2,1386.4 2190.9,1384.8 2191.2,1383 Z" fill="#000"/>
<text x="2202" y="1409" class="lb">8</text>
<line x1="1020" y1="915.6" x2="1071" y2="915.6" stroke="#000" stroke-width="3.2" />
<text x="1082" y="930" class="lb">2</text>
<text x="1097" y="930" class="lb">4</text>
<text x="1021.7" y="928.3" class="wm">woooyeah.com</text>
</svg>
</body></html>
